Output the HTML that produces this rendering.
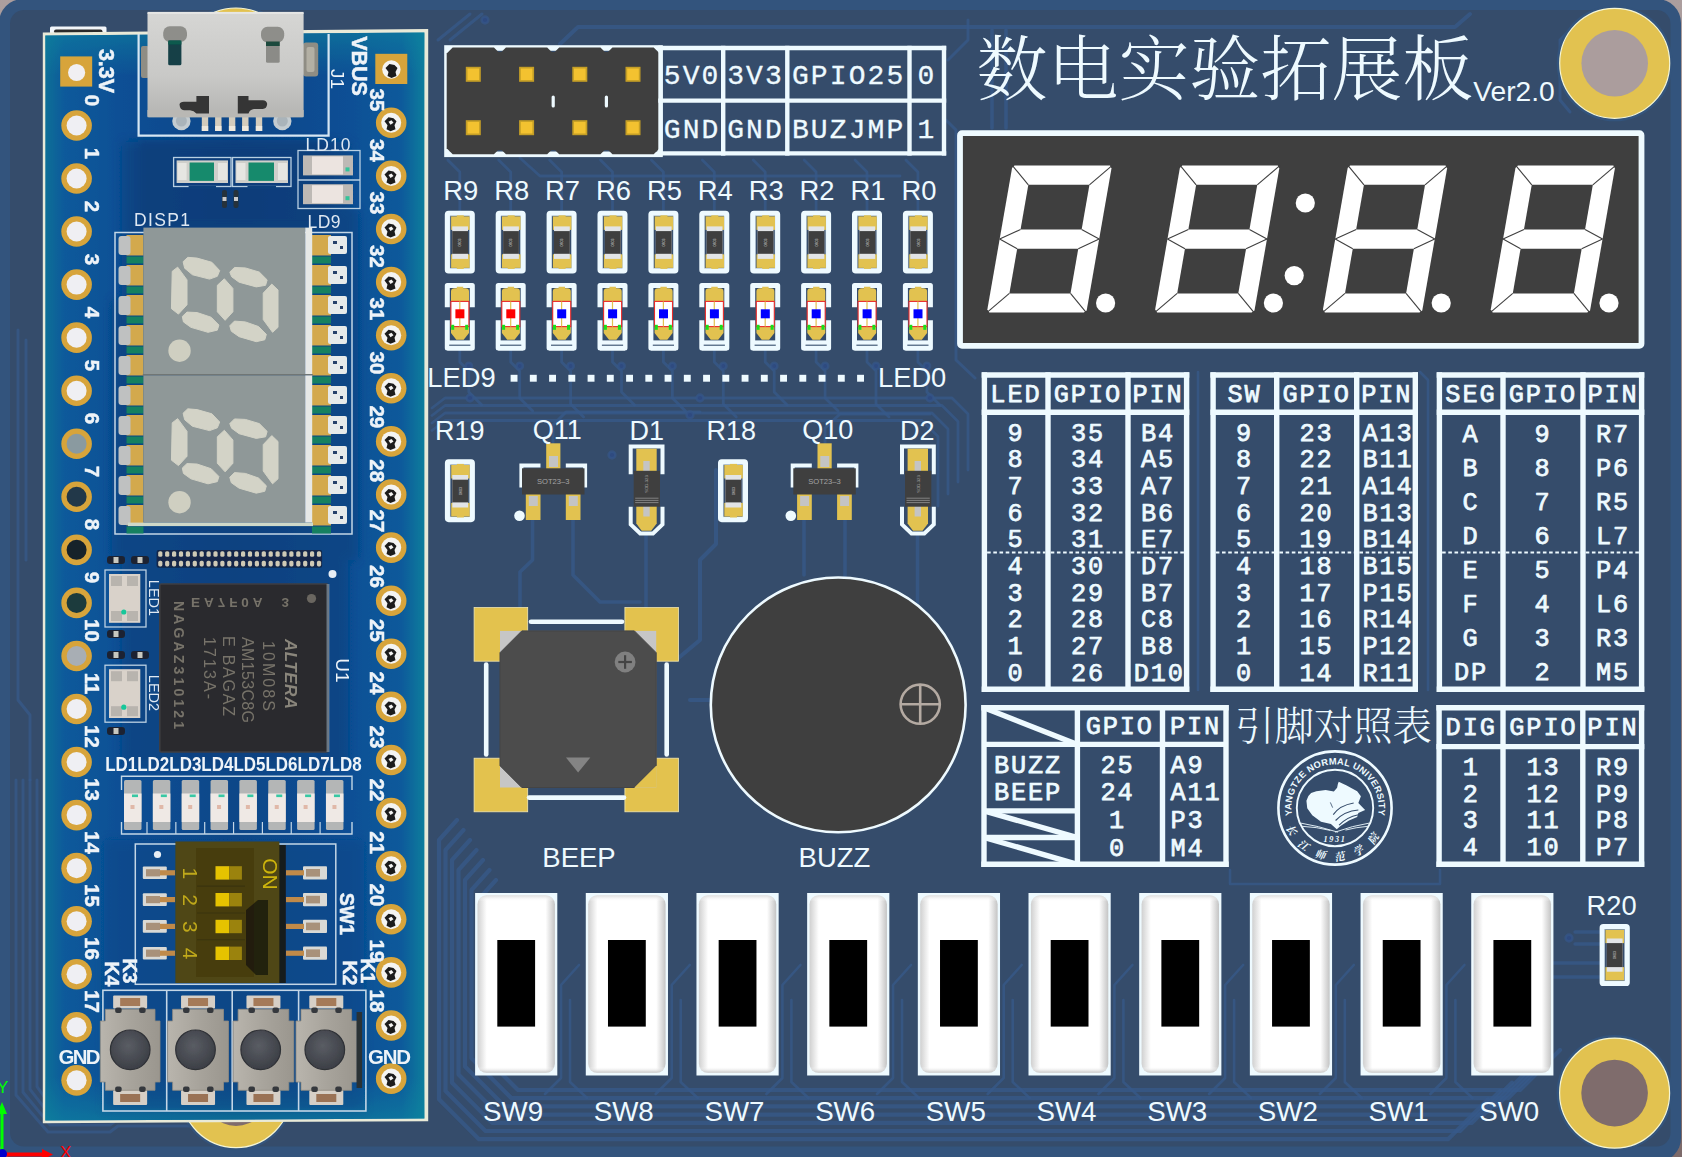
<!DOCTYPE html>
<html lang="zh"><head><meta charset="utf-8"><title>数电实验拓展板 Ver2.0</title>
<style>
html,body{margin:0;padding:0;background:#ac9e9e;overflow:hidden}
svg{display:block}
text{white-space:pre}
</style></head><body>
<svg width="1682" height="1157" viewBox="0 0 1682 1157">
<defs><linearGradient id="bg" x1="0" y1="0" x2="0" y2="1"><stop offset="0" stop-color="#ac9e9e"/><stop offset="1" stop-color="#7d6a6a"/></linearGradient></defs>
<rect x="0.00" y="0.00" width="1682.00" height="1157.00" fill="url(#bg)" />
<rect x="-1.00" y="-1.00" width="1682.00" height="1163.00" fill="#33547d" rx="24" />
<rect x="10.00" y="10.00" width="1660.50" height="1136.50" fill="#354c6b" rx="14" />
<g fill="none" stroke="#37598a" stroke-opacity="0.75" stroke-linejoin="round" stroke-linecap="round">
<path d="M1560.0,1050.0 L1520.0,1090.0 L518.0,1090.0 L478.0,1050.0 L478.0,900.0 L496.0,880.0" stroke-width="4.2"/>
<path d="M1548.0,1058.2 L1508.0,1098.2 L511.5,1098.2 L471.5,1058.2 L471.5,890.0 L489.5,870.0" stroke-width="4.2"/>
<path d="M1536.0,1066.4 L1496.0,1106.4 L505.0,1106.4 L465.0,1066.4 L465.0,880.0 L483.0,860.0" stroke-width="4.2"/>
<path d="M1524.0,1074.6 L1484.0,1114.6 L498.5,1114.6 L458.5,1074.6 L458.5,870.0 L476.5,850.0" stroke-width="4.2"/>
<path d="M1512.0,1082.8 L1472.0,1122.8 L492.0,1122.8 L452.0,1082.8 L452.0,860.0 L470.0,840.0" stroke-width="4.2"/>
<path d="M1500.0,1091.0 L1460.0,1131.0 L485.5,1131.0 L445.5,1091.0 L445.5,850.0 L463.5,830.0" stroke-width="4.2"/>
<path d="M1488.0,1099.2 L1448.0,1139.2 L479.0,1139.2 L439.0,1099.2 L439.0,840.0 L457.0,820.0" stroke-width="4.2"/>
<path d="M579.0,965.0 L561.0,985.0 L561.0,1078.0 L545.0,1094.0" stroke-width="2.6"/>
<path d="M570.0,1000.0 L570.0,1082.0 L587.0,1098.0" stroke-width="2.6"/>
<path d="M689.7,965.0 L671.7,985.0 L671.7,1078.0 L655.7,1094.0" stroke-width="2.6"/>
<path d="M680.7,1000.0 L680.7,1082.0 L697.7,1098.0" stroke-width="2.6"/>
<path d="M800.4,965.0 L782.4,985.0 L782.4,1078.0 L766.4,1094.0" stroke-width="2.6"/>
<path d="M791.4,1000.0 L791.4,1082.0 L808.4,1098.0" stroke-width="2.6"/>
<path d="M911.0,965.0 L893.0,985.0 L893.0,1078.0 L877.0,1094.0" stroke-width="2.6"/>
<path d="M902.0,1000.0 L902.0,1082.0 L919.0,1098.0" stroke-width="2.6"/>
<path d="M1021.7,965.0 L1003.7,985.0 L1003.7,1078.0 L987.7,1094.0" stroke-width="2.6"/>
<path d="M1012.7,1000.0 L1012.7,1082.0 L1029.7,1098.0" stroke-width="2.6"/>
<path d="M1132.4,965.0 L1114.4,985.0 L1114.4,1078.0 L1098.4,1094.0" stroke-width="2.6"/>
<path d="M1123.4,1000.0 L1123.4,1082.0 L1140.4,1098.0" stroke-width="2.6"/>
<path d="M1243.1,965.0 L1225.1,985.0 L1225.1,1078.0 L1209.1,1094.0" stroke-width="2.6"/>
<path d="M1234.1,1000.0 L1234.1,1082.0 L1251.1,1098.0" stroke-width="2.6"/>
<path d="M1353.8,965.0 L1335.8,985.0 L1335.8,1078.0 L1319.8,1094.0" stroke-width="2.6"/>
<path d="M1344.8,1000.0 L1344.8,1082.0 L1361.8,1098.0" stroke-width="2.6"/>
<path d="M1464.4,965.0 L1446.4,985.0 L1446.4,1078.0 L1430.4,1094.0" stroke-width="2.6"/>
<path d="M1455.4,1000.0 L1455.4,1082.0 L1472.4,1098.0" stroke-width="2.6"/>
<path d="M16.0,780.0 L16.0,1095.0 L48.0,1132.0 L110.0,1132.0 L118.0,1126.0 L200.0,1126.0" stroke-width="3.0"/>
<path d="M23.0,780.0 L23.0,1092.2 L50.1,1125.0 L110.0,1125.0 L118.0,1119.0 L200.0,1119.0" stroke-width="3.0"/>
<path d="M30.0,780.0 L30.0,1089.4 L52.2,1118.0 L110.0,1118.0 L118.0,1112.0 L200.0,1112.0" stroke-width="3.0"/>
<path d="M37.0,780.0 L37.0,1086.6 L54.3,1111.0 L110.0,1111.0 L118.0,1105.0 L200.0,1105.0" stroke-width="3.0"/>
<path d="M18.0,330.0 L18.0,700.0 L30.0,715.0 L30.0,780.0" stroke-width="3.0"/>
<path d="M26.0,340.0 L26.0,560.0" stroke-width="3.0"/>
<path d="M459.8,350.0 L459.8,362.0 L468.8,371.0 L468.8,392.0 L481.8,405.0" stroke-width="2.8"/>
<path d="M459.8,211.0 L459.8,172.0 L447.8,160.0" stroke-width="2.8"/>
<path d="M510.7,350.0 L510.7,362.0 L519.7,371.0 L519.7,398.0 L532.7,411.0" stroke-width="2.8"/>
<path d="M510.7,211.0 L510.7,172.0 L498.7,160.0" stroke-width="2.8"/>
<path d="M561.6,350.0 L561.6,362.0 L570.6,371.0 L570.6,404.0 L583.6,417.0" stroke-width="2.8"/>
<path d="M561.6,211.0 L561.6,172.0 L549.6,160.0" stroke-width="2.8"/>
<path d="M612.5,350.0 L612.5,362.0 L621.5,371.0 L621.5,392.0 L634.5,405.0" stroke-width="2.8"/>
<path d="M612.5,211.0 L612.5,172.0 L600.5,160.0" stroke-width="2.8"/>
<path d="M663.4,350.0 L663.4,362.0 L672.4,371.0 L672.4,398.0 L685.4,411.0" stroke-width="2.8"/>
<path d="M663.4,211.0 L663.4,172.0 L651.4,160.0" stroke-width="2.8"/>
<path d="M714.3,350.0 L714.3,362.0 L723.3,371.0 L723.3,404.0 L736.3,417.0" stroke-width="2.8"/>
<path d="M714.3,211.0 L714.3,172.0 L702.3,160.0" stroke-width="2.8"/>
<path d="M765.2,350.0 L765.2,362.0 L774.2,371.0 L774.2,392.0 L787.2,405.0" stroke-width="2.8"/>
<path d="M765.2,211.0 L765.2,172.0 L753.2,160.0" stroke-width="2.8"/>
<path d="M816.1,350.0 L816.1,362.0 L825.1,371.0 L825.1,398.0 L838.1,411.0" stroke-width="2.8"/>
<path d="M816.1,211.0 L816.1,172.0 L804.1,160.0" stroke-width="2.8"/>
<path d="M867.0,350.0 L867.0,362.0 L876.0,371.0 L876.0,404.0 L889.0,417.0" stroke-width="2.8"/>
<path d="M867.0,211.0 L867.0,172.0 L855.0,160.0" stroke-width="2.8"/>
<path d="M917.9,350.0 L917.9,362.0 L926.9,371.0 L926.9,392.0 L939.9,405.0" stroke-width="2.8"/>
<path d="M917.9,211.0 L917.9,172.0 L905.9,160.0" stroke-width="2.8"/>
<path d="M432.0,408.0 L445.0,398.0 L952.0,398.0 L968.0,414.0 L968.0,470.0" stroke-width="2.8"/>
<path d="M432.0,415.5 L445.0,405.5 L942.0,405.5 L958.0,421.5 L958.0,482.0" stroke-width="2.8"/>
<path d="M432.0,423.0 L445.0,413.0 L932.0,413.0 L948.0,429.0 L948.0,494.0" stroke-width="2.8"/>
<path d="M432.0,430.5 L445.0,420.5 L922.0,420.5 L938.0,436.5 L938.0,506.0" stroke-width="2.8"/>
<path d="M532.5,520.0 L532.5,560.0 L520.0,572.0 L520.0,607.0" stroke-width="3.6"/>
<path d="M573.0,520.0 L573.0,575.0 L600.0,602.0 L640.0,602.0" stroke-width="3.6"/>
<path d="M646.0,535.0 L646.0,607.0" stroke-width="3.6"/>
<path d="M804.0,520.0 L804.0,575.0" stroke-width="3.6"/>
<path d="M845.0,520.0 L845.0,578.0" stroke-width="3.6"/>
<path d="M917.5,535.0 L917.5,610.0" stroke-width="3.6"/>
<path d="M553.0,443.0 L553.0,425.0 L566.0,412.0 L700.0,412.0" stroke-width="3.0"/>
<path d="M825.0,443.0 L825.0,428.0 L840.0,414.0 L930.0,414.0" stroke-width="3.0"/>
<path d="M676.0,660.0 L700.0,640.0 L700.0,560.0 L716.0,544.0 L716.0,470.0" stroke-width="4.0"/>
<path d="M690.0,700.0 L712.0,700.0" stroke-width="4.0"/>
<path d="M560.0,44.0 L578.0,27.0 L1455.0,27.0 L1470.0,14.0" stroke-width="4.0"/>
<path d="M992.0,30.0 L992.0,128.0" stroke-width="3.6"/>
<path d="M1006.0,30.0 L1006.0,128.0" stroke-width="3.6"/>
<path d="M438.0,40.0 L470.0,14.0" stroke-width="3.0"/>
<path d="M450.0,40.0 L482.0,14.0" stroke-width="3.0"/>
<path d="M520.0,158.0 L540.0,176.0 L900.0,176.0" stroke-width="2.8"/>
<path d="M948.0,60.0 L968.0,40.0 L968.0,20.0" stroke-width="3.0"/>
<path d="M946.0,120.0 L956.0,130.0 L956.0,360.0 L975.0,378.0" stroke-width="3.0"/>
<path d="M1420.0,372.0 L1428.0,380.0 L1428.0,690.0" stroke-width="2.6"/>
<path d="M1198.0,372.0 L1198.0,690.0" stroke-width="2.6"/>
<path d="M1580.0,20.0 L1560.0,40.0 L1560.0,100.0 L1570.0,112.0" stroke-width="3.0"/>
<path d="M1575.0,932.0 L1600.0,932.0" stroke-width="3.4"/>
<path d="M1575.0,944.0 L1600.0,944.0" stroke-width="3.4"/>
<path d="M1553.0,963.0 L1600.0,963.0" stroke-width="3.4"/>
<path d="M1553.0,977.0 L1600.0,977.0" stroke-width="3.4"/>
<path d="M1230.0,870.0 L1230.0,884.0 L1440.0,884.0 L1440.0,870.0" stroke-width="2.6"/>
</g>
<g fill="#2f4b80" stroke="#37588a" stroke-opacity="0.6" stroke-width="2.6">
<circle cx="468.8" cy="366" r="3.2"/>
<circle cx="519.7" cy="366" r="3.2"/>
<circle cx="570.6" cy="366" r="3.2"/>
<circle cx="621.5" cy="366" r="3.2"/>
<circle cx="672.4" cy="366" r="3.2"/>
<circle cx="723.3" cy="366" r="3.2"/>
<circle cx="774.2" cy="366" r="3.2"/>
<circle cx="825.1" cy="366" r="3.2"/>
<circle cx="876.0" cy="366" r="3.2"/>
<circle cx="926.9" cy="366" r="3.2"/>
<circle cx="612" cy="455" r="3.4"/>
<circle cx="485" cy="20" r="3.4"/>
<circle cx="1569" cy="938" r="3.4"/>
<circle cx="690" cy="415" r="3.4"/>
<circle cx="930" cy="398" r="3.4"/>
<circle cx="700" cy="398" r="3.4"/>
<circle cx="470" cy="398" r="3.4"/>
</g>
<circle cx="1614.70" cy="63.30" r="58.00" fill="#33547d" />
<circle cx="1614.70" cy="63.30" r="55.00" fill="#e2c250" stroke="#f6f6d4" stroke-width="1.2" />
<circle cx="1614.70" cy="63.30" r="33.30" fill="#ab9d9d" />
<circle cx="1614.60" cy="1093.10" r="58.00" fill="#33547d" />
<circle cx="1614.60" cy="1093.10" r="55.00" fill="#e2c250" stroke="#f6f6d4" stroke-width="1.2" />
<circle cx="1614.60" cy="1093.10" r="33.30" fill="#7f6c6c" />
<circle cx="236.00" cy="63.00" r="58.00" fill="#33547d" />
<circle cx="236.00" cy="63.00" r="55.00" fill="#e2c250" stroke="#f6f6d4" stroke-width="1.2" />
<circle cx="236.00" cy="63.00" r="33.30" fill="#ab9d9d" />
<circle cx="236.00" cy="1092.60" r="58.00" fill="#33547d" />
<circle cx="236.00" cy="1092.60" r="55.00" fill="#e2c250" stroke="#f6f6d4" stroke-width="1.2" />
<circle cx="236.00" cy="1092.60" r="33.30" fill="#7f6c6c" />
<rect x="447.00" y="48.00" width="213.00" height="106.30" fill="none" stroke="#eefaff" stroke-width="5.6" />
<polygon points="452.70,47.50 493.95,47.50 499.95,53.50 499.95,148.20 493.95,154.20 452.70,154.20 446.70,148.20 446.70,53.50" fill="#3f3f3f" />
<polygon points="505.95,47.50 547.20,47.50 553.20,53.50 553.20,148.20 547.20,154.20 505.95,154.20 499.95,148.20 499.95,53.50" fill="#3f3f3f" />
<polygon points="559.20,47.50 600.45,47.50 606.45,53.50 606.45,148.20 600.45,154.20 559.20,154.20 553.20,148.20 553.20,53.50" fill="#3f3f3f" />
<polygon points="612.45,47.50 653.70,47.50 659.70,53.50 659.70,148.20 653.70,154.20 612.45,154.20 606.45,148.20 606.45,53.50" fill="#3f3f3f" />
<rect x="450.00" y="52.00" width="206.00" height="98.00" fill="#3f3f3f" />
<rect x="551.60" y="95.50" width="3.20" height="12.00" fill="#eefaff" rx="1.6" />
<rect x="604.80" y="95.50" width="3.20" height="12.00" fill="#eefaff" rx="1.6" />
<rect x="465.80" y="66.80" width="15.00" height="15.00" fill="#c59f26" />
<rect x="467.50" y="68.50" width="11.60" height="11.60" fill="#f3c230" />
<rect x="465.80" y="120.20" width="15.00" height="15.00" fill="#c59f26" />
<rect x="467.50" y="121.90" width="11.60" height="11.60" fill="#f3c230" />
<rect x="519.10" y="66.80" width="15.00" height="15.00" fill="#c59f26" />
<rect x="520.80" y="68.50" width="11.60" height="11.60" fill="#f3c230" />
<rect x="519.10" y="120.20" width="15.00" height="15.00" fill="#c59f26" />
<rect x="520.80" y="121.90" width="11.60" height="11.60" fill="#f3c230" />
<rect x="572.30" y="66.80" width="15.00" height="15.00" fill="#c59f26" />
<rect x="574.00" y="68.50" width="11.60" height="11.60" fill="#f3c230" />
<rect x="572.30" y="120.20" width="15.00" height="15.00" fill="#c59f26" />
<rect x="574.00" y="121.90" width="11.60" height="11.60" fill="#f3c230" />
<rect x="625.50" y="66.80" width="15.00" height="15.00" fill="#c59f26" />
<rect x="627.20" y="68.50" width="11.60" height="11.60" fill="#f3c230" />
<rect x="625.50" y="120.20" width="15.00" height="15.00" fill="#c59f26" />
<rect x="627.20" y="121.90" width="11.60" height="11.60" fill="#f3c230" />
<line x1="660.50" y1="45.80" x2="660.50" y2="155.60" stroke="#eefaff" stroke-width="4.4" />
<line x1="723.20" y1="45.80" x2="723.20" y2="155.60" stroke="#eefaff" stroke-width="4.4" />
<line x1="787.30" y1="45.80" x2="787.30" y2="155.60" stroke="#eefaff" stroke-width="4.4" />
<line x1="909.50" y1="45.80" x2="909.50" y2="155.60" stroke="#eefaff" stroke-width="4.4" />
<line x1="944.00" y1="45.80" x2="944.00" y2="155.60" stroke="#eefaff" stroke-width="4.4" />
<line x1="658.30" y1="48.00" x2="946.20" y2="48.00" stroke="#eefaff" stroke-width="4.4" />
<line x1="658.30" y1="100.60" x2="946.20" y2="100.60" stroke="#eefaff" stroke-width="4.4" />
<line x1="658.30" y1="153.40" x2="946.20" y2="153.40" stroke="#eefaff" stroke-width="4.4" />
<text x="692.10" y="84.30" font-family="'Liberation Mono', monospace" font-size="28" fill="#eefaff" text-anchor="middle" font-weight="normal" letter-spacing="2.1" stroke="#eefaff" stroke-width="0.3" stroke-linejoin="round" >5V0</text>
<text x="692.10" y="138.30" font-family="'Liberation Mono', monospace" font-size="28" fill="#eefaff" text-anchor="middle" font-weight="normal" letter-spacing="2.1" stroke="#eefaff" stroke-width="0.3" stroke-linejoin="round" >GND</text>
<text x="755.50" y="84.30" font-family="'Liberation Mono', monospace" font-size="28" fill="#eefaff" text-anchor="middle" font-weight="normal" letter-spacing="2.1" stroke="#eefaff" stroke-width="0.3" stroke-linejoin="round" >3V3</text>
<text x="755.50" y="138.30" font-family="'Liberation Mono', monospace" font-size="28" fill="#eefaff" text-anchor="middle" font-weight="normal" letter-spacing="2.1" stroke="#eefaff" stroke-width="0.3" stroke-linejoin="round" >GND</text>
<text x="848.65" y="84.30" font-family="'Liberation Mono', monospace" font-size="28" fill="#eefaff" text-anchor="middle" font-weight="normal" letter-spacing="2.1" stroke="#eefaff" stroke-width="0.3" stroke-linejoin="round" >GPIO25</text>
<text x="848.65" y="138.30" font-family="'Liberation Mono', monospace" font-size="28" fill="#eefaff" text-anchor="middle" font-weight="normal" letter-spacing="2.1" stroke="#eefaff" stroke-width="0.3" stroke-linejoin="round" >BUZJMP</text>
<text x="927.00" y="84.30" font-family="'Liberation Mono', monospace" font-size="28" fill="#eefaff" text-anchor="middle" font-weight="normal" letter-spacing="2.1" stroke="#eefaff" stroke-width="0.3" stroke-linejoin="round" >0</text>
<text x="927.00" y="138.30" font-family="'Liberation Mono', monospace" font-size="28" fill="#eefaff" text-anchor="middle" font-weight="normal" letter-spacing="2.1" stroke="#eefaff" stroke-width="0.3" stroke-linejoin="round" >1</text>
<rect x="447.40" y="213.25" width="24.80" height="57.70" fill="none" stroke="#eefaff" stroke-width="5.2" rx="1.2" />
<rect x="450.00" y="215.90" width="19.60" height="52.40" fill="none" stroke="#cfe0ea" stroke-width="0.5" />
<rect x="451.10" y="216.40" width="18.50" height="13.50" fill="#e2c250" />
<rect x="451.10" y="254.30" width="18.50" height="13.60" fill="#e2c250" />
<rect x="456.80" y="215.30" width="7.00" height="2.00" fill="#e2c250" />
<rect x="456.80" y="266.90" width="7.00" height="2.00" fill="#e2c250" />
<rect x="452.20" y="226.40" width="15.80" height="32.50" fill="#e2e4e6" />
<rect x="452.20" y="231.10" width="15.80" height="22.70" fill="#3f3f3f" />
<text x="461.50" y="242.40" font-family="'Liberation Sans', sans-serif" font-size="3.6" fill="#d8d8d8" text-anchor="middle" font-weight="normal" transform="rotate(-90 461.50 242.40)">0603</text>
<text x="460.80" y="199.80" font-family="'Liberation Sans', sans-serif" font-size="27.4" fill="#eefaff" text-anchor="middle" font-weight="normal" >R9</text>
<rect x="498.30" y="213.25" width="24.80" height="57.70" fill="none" stroke="#eefaff" stroke-width="5.2" rx="1.2" />
<rect x="500.90" y="215.90" width="19.60" height="52.40" fill="none" stroke="#cfe0ea" stroke-width="0.5" />
<rect x="502.00" y="216.40" width="18.50" height="13.50" fill="#e2c250" />
<rect x="502.00" y="254.30" width="18.50" height="13.60" fill="#e2c250" />
<rect x="507.70" y="215.30" width="7.00" height="2.00" fill="#e2c250" />
<rect x="507.70" y="266.90" width="7.00" height="2.00" fill="#e2c250" />
<rect x="503.10" y="226.40" width="15.80" height="32.50" fill="#e2e4e6" />
<rect x="503.10" y="231.10" width="15.80" height="22.70" fill="#3f3f3f" />
<text x="512.40" y="242.40" font-family="'Liberation Sans', sans-serif" font-size="3.6" fill="#d8d8d8" text-anchor="middle" font-weight="normal" transform="rotate(-90 512.40 242.40)">0603</text>
<text x="511.70" y="199.80" font-family="'Liberation Sans', sans-serif" font-size="27.4" fill="#eefaff" text-anchor="middle" font-weight="normal" >R8</text>
<rect x="549.20" y="213.25" width="24.80" height="57.70" fill="none" stroke="#eefaff" stroke-width="5.2" rx="1.2" />
<rect x="551.80" y="215.90" width="19.60" height="52.40" fill="none" stroke="#cfe0ea" stroke-width="0.5" />
<rect x="552.90" y="216.40" width="18.50" height="13.50" fill="#e2c250" />
<rect x="552.90" y="254.30" width="18.50" height="13.60" fill="#e2c250" />
<rect x="558.60" y="215.30" width="7.00" height="2.00" fill="#e2c250" />
<rect x="558.60" y="266.90" width="7.00" height="2.00" fill="#e2c250" />
<rect x="554.00" y="226.40" width="15.80" height="32.50" fill="#e2e4e6" />
<rect x="554.00" y="231.10" width="15.80" height="22.70" fill="#3f3f3f" />
<text x="563.30" y="242.40" font-family="'Liberation Sans', sans-serif" font-size="3.6" fill="#d8d8d8" text-anchor="middle" font-weight="normal" transform="rotate(-90 563.30 242.40)">0603</text>
<text x="562.60" y="199.80" font-family="'Liberation Sans', sans-serif" font-size="27.4" fill="#eefaff" text-anchor="middle" font-weight="normal" >R7</text>
<rect x="600.10" y="213.25" width="24.80" height="57.70" fill="none" stroke="#eefaff" stroke-width="5.2" rx="1.2" />
<rect x="602.70" y="215.90" width="19.60" height="52.40" fill="none" stroke="#cfe0ea" stroke-width="0.5" />
<rect x="603.80" y="216.40" width="18.50" height="13.50" fill="#e2c250" />
<rect x="603.80" y="254.30" width="18.50" height="13.60" fill="#e2c250" />
<rect x="609.50" y="215.30" width="7.00" height="2.00" fill="#e2c250" />
<rect x="609.50" y="266.90" width="7.00" height="2.00" fill="#e2c250" />
<rect x="604.90" y="226.40" width="15.80" height="32.50" fill="#e2e4e6" />
<rect x="604.90" y="231.10" width="15.80" height="22.70" fill="#3f3f3f" />
<text x="614.20" y="242.40" font-family="'Liberation Sans', sans-serif" font-size="3.6" fill="#d8d8d8" text-anchor="middle" font-weight="normal" transform="rotate(-90 614.20 242.40)">0603</text>
<text x="613.50" y="199.80" font-family="'Liberation Sans', sans-serif" font-size="27.4" fill="#eefaff" text-anchor="middle" font-weight="normal" >R6</text>
<rect x="651.00" y="213.25" width="24.80" height="57.70" fill="none" stroke="#eefaff" stroke-width="5.2" rx="1.2" />
<rect x="653.60" y="215.90" width="19.60" height="52.40" fill="none" stroke="#cfe0ea" stroke-width="0.5" />
<rect x="654.70" y="216.40" width="18.50" height="13.50" fill="#e2c250" />
<rect x="654.70" y="254.30" width="18.50" height="13.60" fill="#e2c250" />
<rect x="660.40" y="215.30" width="7.00" height="2.00" fill="#e2c250" />
<rect x="660.40" y="266.90" width="7.00" height="2.00" fill="#e2c250" />
<rect x="655.80" y="226.40" width="15.80" height="32.50" fill="#e2e4e6" />
<rect x="655.80" y="231.10" width="15.80" height="22.70" fill="#3f3f3f" />
<text x="665.10" y="242.40" font-family="'Liberation Sans', sans-serif" font-size="3.6" fill="#d8d8d8" text-anchor="middle" font-weight="normal" transform="rotate(-90 665.10 242.40)">0603</text>
<text x="664.40" y="199.80" font-family="'Liberation Sans', sans-serif" font-size="27.4" fill="#eefaff" text-anchor="middle" font-weight="normal" >R5</text>
<rect x="701.90" y="213.25" width="24.80" height="57.70" fill="none" stroke="#eefaff" stroke-width="5.2" rx="1.2" />
<rect x="704.50" y="215.90" width="19.60" height="52.40" fill="none" stroke="#cfe0ea" stroke-width="0.5" />
<rect x="705.60" y="216.40" width="18.50" height="13.50" fill="#e2c250" />
<rect x="705.60" y="254.30" width="18.50" height="13.60" fill="#e2c250" />
<rect x="711.30" y="215.30" width="7.00" height="2.00" fill="#e2c250" />
<rect x="711.30" y="266.90" width="7.00" height="2.00" fill="#e2c250" />
<rect x="706.70" y="226.40" width="15.80" height="32.50" fill="#e2e4e6" />
<rect x="706.70" y="231.10" width="15.80" height="22.70" fill="#3f3f3f" />
<text x="716.00" y="242.40" font-family="'Liberation Sans', sans-serif" font-size="3.6" fill="#d8d8d8" text-anchor="middle" font-weight="normal" transform="rotate(-90 716.00 242.40)">0603</text>
<text x="715.30" y="199.80" font-family="'Liberation Sans', sans-serif" font-size="27.4" fill="#eefaff" text-anchor="middle" font-weight="normal" >R4</text>
<rect x="752.80" y="213.25" width="24.80" height="57.70" fill="none" stroke="#eefaff" stroke-width="5.2" rx="1.2" />
<rect x="755.40" y="215.90" width="19.60" height="52.40" fill="none" stroke="#cfe0ea" stroke-width="0.5" />
<rect x="756.50" y="216.40" width="18.50" height="13.50" fill="#e2c250" />
<rect x="756.50" y="254.30" width="18.50" height="13.60" fill="#e2c250" />
<rect x="762.20" y="215.30" width="7.00" height="2.00" fill="#e2c250" />
<rect x="762.20" y="266.90" width="7.00" height="2.00" fill="#e2c250" />
<rect x="757.60" y="226.40" width="15.80" height="32.50" fill="#e2e4e6" />
<rect x="757.60" y="231.10" width="15.80" height="22.70" fill="#3f3f3f" />
<text x="766.90" y="242.40" font-family="'Liberation Sans', sans-serif" font-size="3.6" fill="#d8d8d8" text-anchor="middle" font-weight="normal" transform="rotate(-90 766.90 242.40)">0603</text>
<text x="766.20" y="199.80" font-family="'Liberation Sans', sans-serif" font-size="27.4" fill="#eefaff" text-anchor="middle" font-weight="normal" >R3</text>
<rect x="803.70" y="213.25" width="24.80" height="57.70" fill="none" stroke="#eefaff" stroke-width="5.2" rx="1.2" />
<rect x="806.30" y="215.90" width="19.60" height="52.40" fill="none" stroke="#cfe0ea" stroke-width="0.5" />
<rect x="807.40" y="216.40" width="18.50" height="13.50" fill="#e2c250" />
<rect x="807.40" y="254.30" width="18.50" height="13.60" fill="#e2c250" />
<rect x="813.10" y="215.30" width="7.00" height="2.00" fill="#e2c250" />
<rect x="813.10" y="266.90" width="7.00" height="2.00" fill="#e2c250" />
<rect x="808.50" y="226.40" width="15.80" height="32.50" fill="#e2e4e6" />
<rect x="808.50" y="231.10" width="15.80" height="22.70" fill="#3f3f3f" />
<text x="817.80" y="242.40" font-family="'Liberation Sans', sans-serif" font-size="3.6" fill="#d8d8d8" text-anchor="middle" font-weight="normal" transform="rotate(-90 817.80 242.40)">0603</text>
<text x="817.10" y="199.80" font-family="'Liberation Sans', sans-serif" font-size="27.4" fill="#eefaff" text-anchor="middle" font-weight="normal" >R2</text>
<rect x="854.60" y="213.25" width="24.80" height="57.70" fill="none" stroke="#eefaff" stroke-width="5.2" rx="1.2" />
<rect x="857.20" y="215.90" width="19.60" height="52.40" fill="none" stroke="#cfe0ea" stroke-width="0.5" />
<rect x="858.30" y="216.40" width="18.50" height="13.50" fill="#e2c250" />
<rect x="858.30" y="254.30" width="18.50" height="13.60" fill="#e2c250" />
<rect x="864.00" y="215.30" width="7.00" height="2.00" fill="#e2c250" />
<rect x="864.00" y="266.90" width="7.00" height="2.00" fill="#e2c250" />
<rect x="859.40" y="226.40" width="15.80" height="32.50" fill="#e2e4e6" />
<rect x="859.40" y="231.10" width="15.80" height="22.70" fill="#3f3f3f" />
<text x="868.70" y="242.40" font-family="'Liberation Sans', sans-serif" font-size="3.6" fill="#d8d8d8" text-anchor="middle" font-weight="normal" transform="rotate(-90 868.70 242.40)">0603</text>
<text x="868.00" y="199.80" font-family="'Liberation Sans', sans-serif" font-size="27.4" fill="#eefaff" text-anchor="middle" font-weight="normal" >R1</text>
<rect x="905.50" y="213.25" width="24.80" height="57.70" fill="none" stroke="#eefaff" stroke-width="5.2" rx="1.2" />
<rect x="908.10" y="215.90" width="19.60" height="52.40" fill="none" stroke="#cfe0ea" stroke-width="0.5" />
<rect x="909.20" y="216.40" width="18.50" height="13.50" fill="#e2c250" />
<rect x="909.20" y="254.30" width="18.50" height="13.60" fill="#e2c250" />
<rect x="914.90" y="215.30" width="7.00" height="2.00" fill="#e2c250" />
<rect x="914.90" y="266.90" width="7.00" height="2.00" fill="#e2c250" />
<rect x="910.30" y="226.40" width="15.80" height="32.50" fill="#e2e4e6" />
<rect x="910.30" y="231.10" width="15.80" height="22.70" fill="#3f3f3f" />
<text x="919.60" y="242.40" font-family="'Liberation Sans', sans-serif" font-size="3.6" fill="#d8d8d8" text-anchor="middle" font-weight="normal" transform="rotate(-90 919.60 242.40)">0603</text>
<text x="918.90" y="199.80" font-family="'Liberation Sans', sans-serif" font-size="27.4" fill="#eefaff" text-anchor="middle" font-weight="normal" >R0</text>
<path d="M447.30,307.2 V285.5 H472.30 V307.2" fill="none" stroke="#eefaff" stroke-width="5.0" stroke-linejoin="round"/>
<path d="M447.30,320.3 V348.0 H472.30 V320.3" fill="none" stroke="#eefaff" stroke-width="5.0" stroke-linejoin="round"/>
<rect x="447.30" y="340.40" width="25.00" height="10.10" fill="#eefaff" />
<line x1="449.20" y1="345.20" x2="470.40" y2="345.20" stroke="#354c6b" stroke-width="1.1" />
<path d="M451.00,309 V291.5 Q451.00,288.2 454.80,288.2 H456.80 V286.8 H463.20 V288.2 H465.20 Q469.00,288.2 469.00,291.5 V309 Z" fill="#e2c250" />
<path d="M451.00,320 V333 L456.30,339.7 H463.70 L469.00,333 V320 Z" fill="#e2c250" />
<rect x="450.90" y="301.40" width="18.00" height="25.20" fill="#ffffff" stroke="#e82a2a" stroke-width="1.1" />
<line x1="459.80" y1="301.40" x2="459.80" y2="326.60" stroke="#e2c250" stroke-width="1.2" />
<rect x="455.40" y="309.30" width="9.00" height="9.00" fill="#ff0000" />
<rect x="451.20" y="324.80" width="3.00" height="5.00" fill="#19e019" />
<rect x="465.20" y="324.80" width="3.00" height="5.00" fill="#19e019" />
<path d="M498.20,307.2 V285.5 H523.20 V307.2" fill="none" stroke="#eefaff" stroke-width="5.0" stroke-linejoin="round"/>
<path d="M498.20,320.3 V348.0 H523.20 V320.3" fill="none" stroke="#eefaff" stroke-width="5.0" stroke-linejoin="round"/>
<rect x="498.20" y="340.40" width="25.00" height="10.10" fill="#eefaff" />
<line x1="500.10" y1="345.20" x2="521.30" y2="345.20" stroke="#354c6b" stroke-width="1.1" />
<path d="M501.90,309 V291.5 Q501.90,288.2 505.70,288.2 H507.70 V286.8 H514.10 V288.2 H516.10 Q519.90,288.2 519.90,291.5 V309 Z" fill="#e2c250" />
<path d="M501.90,320 V333 L507.20,339.7 H514.60 L519.90,333 V320 Z" fill="#e2c250" />
<rect x="501.80" y="301.40" width="18.00" height="25.20" fill="#ffffff" stroke="#e82a2a" stroke-width="1.1" />
<line x1="510.70" y1="301.40" x2="510.70" y2="326.60" stroke="#e2c250" stroke-width="1.2" />
<rect x="506.30" y="309.30" width="9.00" height="9.00" fill="#ff0000" />
<rect x="502.10" y="324.80" width="3.00" height="5.00" fill="#19e019" />
<rect x="516.10" y="324.80" width="3.00" height="5.00" fill="#19e019" />
<path d="M549.10,307.2 V285.5 H574.10 V307.2" fill="none" stroke="#eefaff" stroke-width="5.0" stroke-linejoin="round"/>
<path d="M549.10,320.3 V348.0 H574.10 V320.3" fill="none" stroke="#eefaff" stroke-width="5.0" stroke-linejoin="round"/>
<rect x="549.10" y="340.40" width="25.00" height="10.10" fill="#eefaff" />
<line x1="551.00" y1="345.20" x2="572.20" y2="345.20" stroke="#354c6b" stroke-width="1.1" />
<path d="M552.80,309 V291.5 Q552.80,288.2 556.60,288.2 H558.60 V286.8 H565.00 V288.2 H567.00 Q570.80,288.2 570.80,291.5 V309 Z" fill="#e2c250" />
<path d="M552.80,320 V333 L558.10,339.7 H565.50 L570.80,333 V320 Z" fill="#e2c250" />
<rect x="552.70" y="301.40" width="18.00" height="25.20" fill="#ffffff" stroke="#e82a2a" stroke-width="1.1" />
<line x1="561.60" y1="301.40" x2="561.60" y2="326.60" stroke="#e2c250" stroke-width="1.2" />
<rect x="557.20" y="309.30" width="9.00" height="9.00" fill="#0000ff" />
<rect x="553.00" y="324.80" width="3.00" height="5.00" fill="#19e019" />
<rect x="567.00" y="324.80" width="3.00" height="5.00" fill="#19e019" />
<path d="M600.00,307.2 V285.5 H625.00 V307.2" fill="none" stroke="#eefaff" stroke-width="5.0" stroke-linejoin="round"/>
<path d="M600.00,320.3 V348.0 H625.00 V320.3" fill="none" stroke="#eefaff" stroke-width="5.0" stroke-linejoin="round"/>
<rect x="600.00" y="340.40" width="25.00" height="10.10" fill="#eefaff" />
<line x1="601.90" y1="345.20" x2="623.10" y2="345.20" stroke="#354c6b" stroke-width="1.1" />
<path d="M603.70,309 V291.5 Q603.70,288.2 607.50,288.2 H609.50 V286.8 H615.90 V288.2 H617.90 Q621.70,288.2 621.70,291.5 V309 Z" fill="#e2c250" />
<path d="M603.70,320 V333 L609.00,339.7 H616.40 L621.70,333 V320 Z" fill="#e2c250" />
<rect x="603.60" y="301.40" width="18.00" height="25.20" fill="#ffffff" stroke="#e82a2a" stroke-width="1.1" />
<line x1="612.50" y1="301.40" x2="612.50" y2="326.60" stroke="#e2c250" stroke-width="1.2" />
<rect x="608.10" y="309.30" width="9.00" height="9.00" fill="#0000ff" />
<rect x="603.90" y="324.80" width="3.00" height="5.00" fill="#19e019" />
<rect x="617.90" y="324.80" width="3.00" height="5.00" fill="#19e019" />
<path d="M650.90,307.2 V285.5 H675.90 V307.2" fill="none" stroke="#eefaff" stroke-width="5.0" stroke-linejoin="round"/>
<path d="M650.90,320.3 V348.0 H675.90 V320.3" fill="none" stroke="#eefaff" stroke-width="5.0" stroke-linejoin="round"/>
<rect x="650.90" y="340.40" width="25.00" height="10.10" fill="#eefaff" />
<line x1="652.80" y1="345.20" x2="674.00" y2="345.20" stroke="#354c6b" stroke-width="1.1" />
<path d="M654.60,309 V291.5 Q654.60,288.2 658.40,288.2 H660.40 V286.8 H666.80 V288.2 H668.80 Q672.60,288.2 672.60,291.5 V309 Z" fill="#e2c250" />
<path d="M654.60,320 V333 L659.90,339.7 H667.30 L672.60,333 V320 Z" fill="#e2c250" />
<rect x="654.50" y="301.40" width="18.00" height="25.20" fill="#ffffff" stroke="#e82a2a" stroke-width="1.1" />
<line x1="663.40" y1="301.40" x2="663.40" y2="326.60" stroke="#e2c250" stroke-width="1.2" />
<rect x="659.00" y="309.30" width="9.00" height="9.00" fill="#0000ff" />
<rect x="654.80" y="324.80" width="3.00" height="5.00" fill="#19e019" />
<rect x="668.80" y="324.80" width="3.00" height="5.00" fill="#19e019" />
<path d="M701.80,307.2 V285.5 H726.80 V307.2" fill="none" stroke="#eefaff" stroke-width="5.0" stroke-linejoin="round"/>
<path d="M701.80,320.3 V348.0 H726.80 V320.3" fill="none" stroke="#eefaff" stroke-width="5.0" stroke-linejoin="round"/>
<rect x="701.80" y="340.40" width="25.00" height="10.10" fill="#eefaff" />
<line x1="703.70" y1="345.20" x2="724.90" y2="345.20" stroke="#354c6b" stroke-width="1.1" />
<path d="M705.50,309 V291.5 Q705.50,288.2 709.30,288.2 H711.30 V286.8 H717.70 V288.2 H719.70 Q723.50,288.2 723.50,291.5 V309 Z" fill="#e2c250" />
<path d="M705.50,320 V333 L710.80,339.7 H718.20 L723.50,333 V320 Z" fill="#e2c250" />
<rect x="705.40" y="301.40" width="18.00" height="25.20" fill="#ffffff" stroke="#e82a2a" stroke-width="1.1" />
<line x1="714.30" y1="301.40" x2="714.30" y2="326.60" stroke="#e2c250" stroke-width="1.2" />
<rect x="709.90" y="309.30" width="9.00" height="9.00" fill="#0000ff" />
<rect x="705.70" y="324.80" width="3.00" height="5.00" fill="#19e019" />
<rect x="719.70" y="324.80" width="3.00" height="5.00" fill="#19e019" />
<path d="M752.70,307.2 V285.5 H777.70 V307.2" fill="none" stroke="#eefaff" stroke-width="5.0" stroke-linejoin="round"/>
<path d="M752.70,320.3 V348.0 H777.70 V320.3" fill="none" stroke="#eefaff" stroke-width="5.0" stroke-linejoin="round"/>
<rect x="752.70" y="340.40" width="25.00" height="10.10" fill="#eefaff" />
<line x1="754.60" y1="345.20" x2="775.80" y2="345.20" stroke="#354c6b" stroke-width="1.1" />
<path d="M756.40,309 V291.5 Q756.40,288.2 760.20,288.2 H762.20 V286.8 H768.60 V288.2 H770.60 Q774.40,288.2 774.40,291.5 V309 Z" fill="#e2c250" />
<path d="M756.40,320 V333 L761.70,339.7 H769.10 L774.40,333 V320 Z" fill="#e2c250" />
<rect x="756.30" y="301.40" width="18.00" height="25.20" fill="#ffffff" stroke="#e82a2a" stroke-width="1.1" />
<line x1="765.20" y1="301.40" x2="765.20" y2="326.60" stroke="#e2c250" stroke-width="1.2" />
<rect x="760.80" y="309.30" width="9.00" height="9.00" fill="#0000ff" />
<rect x="756.60" y="324.80" width="3.00" height="5.00" fill="#19e019" />
<rect x="770.60" y="324.80" width="3.00" height="5.00" fill="#19e019" />
<path d="M803.60,307.2 V285.5 H828.60 V307.2" fill="none" stroke="#eefaff" stroke-width="5.0" stroke-linejoin="round"/>
<path d="M803.60,320.3 V348.0 H828.60 V320.3" fill="none" stroke="#eefaff" stroke-width="5.0" stroke-linejoin="round"/>
<rect x="803.60" y="340.40" width="25.00" height="10.10" fill="#eefaff" />
<line x1="805.50" y1="345.20" x2="826.70" y2="345.20" stroke="#354c6b" stroke-width="1.1" />
<path d="M807.30,309 V291.5 Q807.30,288.2 811.10,288.2 H813.10 V286.8 H819.50 V288.2 H821.50 Q825.30,288.2 825.30,291.5 V309 Z" fill="#e2c250" />
<path d="M807.30,320 V333 L812.60,339.7 H820.00 L825.30,333 V320 Z" fill="#e2c250" />
<rect x="807.20" y="301.40" width="18.00" height="25.20" fill="#ffffff" stroke="#e82a2a" stroke-width="1.1" />
<line x1="816.10" y1="301.40" x2="816.10" y2="326.60" stroke="#e2c250" stroke-width="1.2" />
<rect x="811.70" y="309.30" width="9.00" height="9.00" fill="#0000ff" />
<rect x="807.50" y="324.80" width="3.00" height="5.00" fill="#19e019" />
<rect x="821.50" y="324.80" width="3.00" height="5.00" fill="#19e019" />
<path d="M854.50,307.2 V285.5 H879.50 V307.2" fill="none" stroke="#eefaff" stroke-width="5.0" stroke-linejoin="round"/>
<path d="M854.50,320.3 V348.0 H879.50 V320.3" fill="none" stroke="#eefaff" stroke-width="5.0" stroke-linejoin="round"/>
<rect x="854.50" y="340.40" width="25.00" height="10.10" fill="#eefaff" />
<line x1="856.40" y1="345.20" x2="877.60" y2="345.20" stroke="#354c6b" stroke-width="1.1" />
<path d="M858.20,309 V291.5 Q858.20,288.2 862.00,288.2 H864.00 V286.8 H870.40 V288.2 H872.40 Q876.20,288.2 876.20,291.5 V309 Z" fill="#e2c250" />
<path d="M858.20,320 V333 L863.50,339.7 H870.90 L876.20,333 V320 Z" fill="#e2c250" />
<rect x="858.10" y="301.40" width="18.00" height="25.20" fill="#ffffff" stroke="#e82a2a" stroke-width="1.1" />
<line x1="867.00" y1="301.40" x2="867.00" y2="326.60" stroke="#e2c250" stroke-width="1.2" />
<rect x="862.60" y="309.30" width="9.00" height="9.00" fill="#0000ff" />
<rect x="858.40" y="324.80" width="3.00" height="5.00" fill="#19e019" />
<rect x="872.40" y="324.80" width="3.00" height="5.00" fill="#19e019" />
<path d="M905.40,307.2 V285.5 H930.40 V307.2" fill="none" stroke="#eefaff" stroke-width="5.0" stroke-linejoin="round"/>
<path d="M905.40,320.3 V348.0 H930.40 V320.3" fill="none" stroke="#eefaff" stroke-width="5.0" stroke-linejoin="round"/>
<rect x="905.40" y="340.40" width="25.00" height="10.10" fill="#eefaff" />
<line x1="907.30" y1="345.20" x2="928.50" y2="345.20" stroke="#354c6b" stroke-width="1.1" />
<path d="M909.10,309 V291.5 Q909.10,288.2 912.90,288.2 H914.90 V286.8 H921.30 V288.2 H923.30 Q927.10,288.2 927.10,291.5 V309 Z" fill="#e2c250" />
<path d="M909.10,320 V333 L914.40,339.7 H921.80 L927.10,333 V320 Z" fill="#e2c250" />
<rect x="909.00" y="301.40" width="18.00" height="25.20" fill="#ffffff" stroke="#e82a2a" stroke-width="1.1" />
<line x1="917.90" y1="301.40" x2="917.90" y2="326.60" stroke="#e2c250" stroke-width="1.2" />
<rect x="913.50" y="309.30" width="9.00" height="9.00" fill="#0000ff" />
<rect x="909.30" y="324.80" width="3.00" height="5.00" fill="#19e019" />
<rect x="923.30" y="324.80" width="3.00" height="5.00" fill="#19e019" />
<text x="427.30" y="386.80" font-family="'Liberation Sans', sans-serif" font-size="27.3" fill="#eefaff" text-anchor="start" font-weight="normal" >LED9</text>
<text x="878.00" y="386.80" font-family="'Liberation Sans', sans-serif" font-size="27.3" fill="#eefaff" text-anchor="start" font-weight="normal" >LED0</text>
<rect x="510.60" y="374.80" width="6.90" height="6.90" fill="#eefaff" />
<rect x="529.85" y="374.80" width="6.90" height="6.90" fill="#eefaff" />
<rect x="549.10" y="374.80" width="6.90" height="6.90" fill="#eefaff" />
<rect x="568.35" y="374.80" width="6.90" height="6.90" fill="#eefaff" />
<rect x="587.60" y="374.80" width="6.90" height="6.90" fill="#eefaff" />
<rect x="606.85" y="374.80" width="6.90" height="6.90" fill="#eefaff" />
<rect x="626.10" y="374.80" width="6.90" height="6.90" fill="#eefaff" />
<rect x="645.35" y="374.80" width="6.90" height="6.90" fill="#eefaff" />
<rect x="664.60" y="374.80" width="6.90" height="6.90" fill="#eefaff" />
<rect x="683.85" y="374.80" width="6.90" height="6.90" fill="#eefaff" />
<rect x="703.10" y="374.80" width="6.90" height="6.90" fill="#eefaff" />
<rect x="722.35" y="374.80" width="6.90" height="6.90" fill="#eefaff" />
<rect x="741.60" y="374.80" width="6.90" height="6.90" fill="#eefaff" />
<rect x="760.85" y="374.80" width="6.90" height="6.90" fill="#eefaff" />
<rect x="780.10" y="374.80" width="6.90" height="6.90" fill="#eefaff" />
<rect x="799.35" y="374.80" width="6.90" height="6.90" fill="#eefaff" />
<rect x="818.60" y="374.80" width="6.90" height="6.90" fill="#eefaff" />
<rect x="837.85" y="374.80" width="6.90" height="6.90" fill="#eefaff" />
<rect x="857.10" y="374.80" width="6.90" height="6.90" fill="#eefaff" />
<rect x="447.50" y="461.85" width="24.80" height="57.70" fill="none" stroke="#eefaff" stroke-width="5.2" rx="1.2" />
<rect x="450.10" y="464.50" width="19.60" height="52.40" fill="none" stroke="#cfe0ea" stroke-width="0.5" />
<rect x="451.20" y="465.00" width="18.50" height="13.50" fill="#e2c250" />
<rect x="451.20" y="502.90" width="18.50" height="13.60" fill="#e2c250" />
<rect x="456.90" y="463.90" width="7.00" height="2.00" fill="#e2c250" />
<rect x="456.90" y="515.50" width="7.00" height="2.00" fill="#e2c250" />
<rect x="452.30" y="475.00" width="15.80" height="32.50" fill="#e2e4e6" />
<rect x="452.30" y="479.70" width="15.80" height="22.70" fill="#3f3f3f" />
<text x="461.60" y="491.00" font-family="'Liberation Sans', sans-serif" font-size="3.6" fill="#d8d8d8" text-anchor="middle" font-weight="normal" transform="rotate(-90 461.60 491.00)">0603</text>
<rect x="720.60" y="461.85" width="24.80" height="57.70" fill="none" stroke="#eefaff" stroke-width="5.2" rx="1.2" />
<rect x="723.20" y="464.50" width="19.60" height="52.40" fill="none" stroke="#cfe0ea" stroke-width="0.5" />
<rect x="724.30" y="465.00" width="18.50" height="13.50" fill="#e2c250" />
<rect x="724.30" y="502.90" width="18.50" height="13.60" fill="#e2c250" />
<rect x="730.00" y="463.90" width="7.00" height="2.00" fill="#e2c250" />
<rect x="730.00" y="515.50" width="7.00" height="2.00" fill="#e2c250" />
<rect x="725.40" y="475.00" width="15.80" height="32.50" fill="#e2e4e6" />
<rect x="725.40" y="479.70" width="15.80" height="22.70" fill="#3f3f3f" />
<text x="734.70" y="491.00" font-family="'Liberation Sans', sans-serif" font-size="3.6" fill="#d8d8d8" text-anchor="middle" font-weight="normal" transform="rotate(-90 734.70 491.00)">0603</text>
<rect x="546.20" y="443.30" width="14.20" height="26.00" fill="#e2c250" />
<rect x="525.80" y="493.00" width="14.70" height="27.00" fill="#e2c250" />
<rect x="565.80" y="493.00" width="14.70" height="27.00" fill="#e2c250" />
<rect x="549.00" y="456.00" width="9.00" height="11.00" fill="#c4c4c4" />
<rect x="528.80" y="496.00" width="9.00" height="10.00" fill="#c4c4c4" />
<rect x="568.80" y="496.00" width="9.00" height="10.00" fill="#c4c4c4" />
<path d="M521.40,487.5 V465.6 H540.50" fill="none" stroke="#eefaff" stroke-width="4" />
<path d="M585.10,487.5 V465.6 H565.80" fill="none" stroke="#eefaff" stroke-width="4" />
<rect x="522.00" y="468.30" width="62.50" height="26.20" fill="#3f3f3f" />
<text x="553.20" y="483.60" font-family="'Liberation Sans', sans-serif" font-size="7.6" fill="#a4a4a4" text-anchor="middle" font-weight="normal" >SOT23–3</text>
<circle cx="519.50" cy="515.80" r="5.30" fill="#eefaff" />
<rect x="817.50" y="443.30" width="14.20" height="26.00" fill="#e2c250" />
<rect x="797.10" y="493.00" width="14.70" height="27.00" fill="#e2c250" />
<rect x="837.10" y="493.00" width="14.70" height="27.00" fill="#e2c250" />
<rect x="820.30" y="456.00" width="9.00" height="11.00" fill="#c4c4c4" />
<rect x="800.10" y="496.00" width="9.00" height="10.00" fill="#c4c4c4" />
<rect x="840.10" y="496.00" width="9.00" height="10.00" fill="#c4c4c4" />
<path d="M792.70,487.5 V465.6 H811.80" fill="none" stroke="#eefaff" stroke-width="4" />
<path d="M856.40,487.5 V465.6 H837.10" fill="none" stroke="#eefaff" stroke-width="4" />
<rect x="793.30" y="468.30" width="62.50" height="26.20" fill="#3f3f3f" />
<text x="824.50" y="483.60" font-family="'Liberation Sans', sans-serif" font-size="7.6" fill="#a4a4a4" text-anchor="middle" font-weight="normal" >SOT23–3</text>
<circle cx="790.80" cy="515.80" r="5.30" fill="#eefaff" />
<path d="M630.70,474.2 V446.5 H662.50 V474.2" fill="none" stroke="#eefaff" stroke-width="4" />
<path d="M630.70,506.7 V524.5 L640.20,533.5 H653.00 L662.50,524.5 V506.7" fill="none" stroke="#eefaff" stroke-width="4" />
<rect x="636.30" y="448.70" width="20.40" height="24.00" fill="#e2c250" />
<polygon points="636.30,505.00 656.70,505.00 656.70,523.50 651.20,530.80 641.70,530.80 636.30,523.50" fill="#e2c250" />
<rect x="643.30" y="461.00" width="6.40" height="10.00" fill="#c4c4c4" />
<rect x="643.30" y="506.00" width="6.40" height="10.50" fill="#c4c4c4" />
<rect x="633.70" y="470.80" width="26.30" height="35.90" fill="#3f3f3f" />
<line x1="635.20" y1="498.20" x2="658.50" y2="498.20" stroke="#8a8a8a" stroke-width="0.9" />
<line x1="635.20" y1="500.40" x2="658.50" y2="500.40" stroke="#8a8a8a" stroke-width="0.9" />
<line x1="635.20" y1="502.60" x2="658.50" y2="502.60" stroke="#8a8a8a" stroke-width="0.9" />
<text x="648.30" y="484.00" font-family="'Liberation Sans', sans-serif" font-size="4.2" fill="#a4a4a4" text-anchor="middle" font-weight="normal" transform="rotate(-90 648.30 484.00)">SOD-323</text>
<path d="M902.00,474.2 V446.5 H933.80 V474.2" fill="none" stroke="#eefaff" stroke-width="4" />
<path d="M902.00,506.7 V524.5 L911.50,533.5 H924.30 L933.80,524.5 V506.7" fill="none" stroke="#eefaff" stroke-width="4" />
<rect x="907.60" y="448.70" width="20.40" height="24.00" fill="#e2c250" />
<polygon points="907.60,505.00 928.00,505.00 928.00,523.50 922.50,530.80 913.00,530.80 907.60,523.50" fill="#e2c250" />
<rect x="914.60" y="461.00" width="6.40" height="10.00" fill="#c4c4c4" />
<rect x="914.60" y="506.00" width="6.40" height="10.50" fill="#c4c4c4" />
<rect x="905.00" y="470.80" width="26.30" height="35.90" fill="#3f3f3f" />
<line x1="906.50" y1="498.20" x2="929.80" y2="498.20" stroke="#8a8a8a" stroke-width="0.9" />
<line x1="906.50" y1="500.40" x2="929.80" y2="500.40" stroke="#8a8a8a" stroke-width="0.9" />
<line x1="906.50" y1="502.60" x2="929.80" y2="502.60" stroke="#8a8a8a" stroke-width="0.9" />
<text x="919.60" y="484.00" font-family="'Liberation Sans', sans-serif" font-size="4.2" fill="#a4a4a4" text-anchor="middle" font-weight="normal" transform="rotate(-90 919.60 484.00)">SOD-323</text>
<text x="459.70" y="440.30" font-family="'Liberation Sans', sans-serif" font-size="27" fill="#eefaff" text-anchor="middle" font-weight="normal" >R19</text>
<text x="557.20" y="439.30" font-family="'Liberation Sans', sans-serif" font-size="27" fill="#eefaff" text-anchor="middle" font-weight="normal" >Q11</text>
<text x="646.80" y="440.30" font-family="'Liberation Sans', sans-serif" font-size="27" fill="#eefaff" text-anchor="middle" font-weight="normal" >D1</text>
<text x="731.20" y="440.30" font-family="'Liberation Sans', sans-serif" font-size="27" fill="#eefaff" text-anchor="middle" font-weight="normal" >R18</text>
<text x="827.70" y="439.30" font-family="'Liberation Sans', sans-serif" font-size="27" fill="#eefaff" text-anchor="middle" font-weight="normal" >Q10</text>
<text x="917.30" y="440.30" font-family="'Liberation Sans', sans-serif" font-size="27" fill="#eefaff" text-anchor="middle" font-weight="normal" >D2</text>
<rect x="474.10" y="607.60" width="53.60" height="53.60" fill="#e3c24e" stroke="#f2e7b0" stroke-width="0.8" />
<rect x="624.90" y="607.60" width="53.60" height="53.60" fill="#e3c24e" stroke="#f2e7b0" stroke-width="0.8" />
<rect x="474.10" y="758.20" width="53.60" height="53.60" fill="#e3c24e" stroke="#f2e7b0" stroke-width="0.8" />
<rect x="624.90" y="758.20" width="53.60" height="53.60" fill="#e3c24e" stroke="#f2e7b0" stroke-width="0.8" />
<line x1="531.00" y1="621.80" x2="622.00" y2="621.80" stroke="#eefaff" stroke-width="4.6" stroke-linecap="round"/>
<line x1="529.00" y1="797.60" x2="624.00" y2="797.60" stroke="#eefaff" stroke-width="4.6" stroke-linecap="round"/>
<line x1="486.20" y1="664.50" x2="486.20" y2="754.50" stroke="#eefaff" stroke-width="4.6" stroke-linecap="round"/>
<line x1="666.70" y1="664.50" x2="666.70" y2="754.50" stroke="#eefaff" stroke-width="4.6" stroke-linecap="round"/>
<rect x="500.00" y="630.90" width="156.20" height="156.60" fill="#c6c6c6" />
<polygon points="521.80,630.90 634.40,630.90 656.20,652.70 656.20,765.70 634.40,787.50 521.80,787.50 500.00,765.70 500.00,652.70" fill="#4c4c4c" stroke="#444" stroke-width="1" />
<polygon points="656.20,765.70 656.20,787.50 634.40,787.50" fill="#e3c24e" />
<circle cx="625.10" cy="662.00" r="10.40" fill="#808080" />
<line x1="618.30" y1="662.00" x2="631.90" y2="662.00" stroke="#444" stroke-width="2.2" />
<line x1="625.10" y1="655.20" x2="625.10" y2="668.80" stroke="#444" stroke-width="2.2" />
<polygon points="566.00,757.60 590.30,757.60 578.10,772.60" fill="#848484" />
<text x="579.00" y="866.80" font-family="'Liberation Sans', sans-serif" font-size="27.5" fill="#eefaff" text-anchor="middle" font-weight="normal" >BEEP</text>
<circle cx="838.20" cy="704.90" r="127.40" fill="#3f3f3f" stroke="#eefaff" stroke-width="2.6" />
<circle cx="920.20" cy="704.20" r="19.60" fill="none" stroke="#b4aaa2" stroke-width="2.6" />
<line x1="900.60" y1="704.20" x2="939.80" y2="704.20" stroke="#b4aaa2" stroke-width="2.6" />
<line x1="920.20" y1="684.60" x2="920.20" y2="723.80" stroke="#b4aaa2" stroke-width="2.6" />
<text x="834.50" y="866.80" font-family="'Liberation Sans', sans-serif" font-size="27.5" fill="#eefaff" text-anchor="middle" font-weight="normal" >BUZZ</text>
<rect x="960.00" y="133.20" width="681.50" height="212.60" fill="#3f3f3f" stroke="#eefaff" stroke-width="5.8" rx="2" />
<polygon points="1014.50,165.60 1110.00,165.60 1111.48,168.60 1086.67,310.60 1083.82,312.60 989.32,312.60 987.34,309.60 1012.06,168.10" fill="#ffffff" />
<polygon points="1028.35,184.80 1089.45,184.80 1081.64,229.50 1020.54,229.50" fill="#3f3f3f" />
<polygon points="1017.18,248.70 1078.28,248.70 1070.47,293.40 1009.37,293.40" fill="#3f3f3f" />
<line x1="1012.50" y1="165.60" x2="1028.35" y2="184.80" stroke="#3f3f3f" stroke-width="1.1" />
<line x1="1112.00" y1="165.60" x2="1089.45" y2="184.80" stroke="#3f3f3f" stroke-width="1.1" />
<line x1="986.82" y1="312.60" x2="1009.37" y2="293.40" stroke="#3f3f3f" stroke-width="1.1" />
<line x1="1086.32" y1="312.60" x2="1070.47" y2="293.40" stroke="#3f3f3f" stroke-width="1.1" />
<line x1="999.66" y1="239.10" x2="1020.54" y2="229.50" stroke="#3f3f3f" stroke-width="1.1" />
<line x1="999.66" y1="239.10" x2="1017.18" y2="248.70" stroke="#3f3f3f" stroke-width="1.1" />
<line x1="1099.16" y1="239.10" x2="1081.64" y2="229.50" stroke="#3f3f3f" stroke-width="1.1" />
<line x1="1099.16" y1="239.10" x2="1078.28" y2="248.70" stroke="#3f3f3f" stroke-width="1.1" />
<circle cx="1105.60" cy="303.00" r="9.60" fill="#ffffff" />
<polygon points="1182.30,165.60 1277.80,165.60 1279.28,168.60 1254.47,310.60 1251.62,312.60 1157.12,312.60 1155.14,309.60 1179.86,168.10" fill="#ffffff" />
<polygon points="1196.15,184.80 1257.25,184.80 1249.44,229.50 1188.34,229.50" fill="#3f3f3f" />
<polygon points="1184.98,248.70 1246.08,248.70 1238.27,293.40 1177.17,293.40" fill="#3f3f3f" />
<line x1="1180.30" y1="165.60" x2="1196.15" y2="184.80" stroke="#3f3f3f" stroke-width="1.1" />
<line x1="1279.80" y1="165.60" x2="1257.25" y2="184.80" stroke="#3f3f3f" stroke-width="1.1" />
<line x1="1154.62" y1="312.60" x2="1177.17" y2="293.40" stroke="#3f3f3f" stroke-width="1.1" />
<line x1="1254.12" y1="312.60" x2="1238.27" y2="293.40" stroke="#3f3f3f" stroke-width="1.1" />
<line x1="1167.46" y1="239.10" x2="1188.34" y2="229.50" stroke="#3f3f3f" stroke-width="1.1" />
<line x1="1167.46" y1="239.10" x2="1184.98" y2="248.70" stroke="#3f3f3f" stroke-width="1.1" />
<line x1="1266.96" y1="239.10" x2="1249.44" y2="229.50" stroke="#3f3f3f" stroke-width="1.1" />
<line x1="1266.96" y1="239.10" x2="1246.08" y2="248.70" stroke="#3f3f3f" stroke-width="1.1" />
<circle cx="1273.40" cy="303.00" r="9.60" fill="#ffffff" />
<polygon points="1350.10,165.60 1445.60,165.60 1447.08,168.60 1422.27,310.60 1419.42,312.60 1324.92,312.60 1322.94,309.60 1347.66,168.10" fill="#ffffff" />
<polygon points="1363.95,184.80 1425.05,184.80 1417.24,229.50 1356.14,229.50" fill="#3f3f3f" />
<polygon points="1352.78,248.70 1413.88,248.70 1406.07,293.40 1344.97,293.40" fill="#3f3f3f" />
<line x1="1348.10" y1="165.60" x2="1363.95" y2="184.80" stroke="#3f3f3f" stroke-width="1.1" />
<line x1="1447.60" y1="165.60" x2="1425.05" y2="184.80" stroke="#3f3f3f" stroke-width="1.1" />
<line x1="1322.42" y1="312.60" x2="1344.97" y2="293.40" stroke="#3f3f3f" stroke-width="1.1" />
<line x1="1421.92" y1="312.60" x2="1406.07" y2="293.40" stroke="#3f3f3f" stroke-width="1.1" />
<line x1="1335.26" y1="239.10" x2="1356.14" y2="229.50" stroke="#3f3f3f" stroke-width="1.1" />
<line x1="1335.26" y1="239.10" x2="1352.78" y2="248.70" stroke="#3f3f3f" stroke-width="1.1" />
<line x1="1434.76" y1="239.10" x2="1417.24" y2="229.50" stroke="#3f3f3f" stroke-width="1.1" />
<line x1="1434.76" y1="239.10" x2="1413.88" y2="248.70" stroke="#3f3f3f" stroke-width="1.1" />
<circle cx="1441.20" cy="303.00" r="9.60" fill="#ffffff" />
<polygon points="1517.90,165.60 1613.40,165.60 1614.88,168.60 1590.07,310.60 1587.22,312.60 1492.72,312.60 1490.74,309.60 1515.46,168.10" fill="#ffffff" />
<polygon points="1531.75,184.80 1592.85,184.80 1585.04,229.50 1523.94,229.50" fill="#3f3f3f" />
<polygon points="1520.58,248.70 1581.68,248.70 1573.87,293.40 1512.77,293.40" fill="#3f3f3f" />
<line x1="1515.90" y1="165.60" x2="1531.75" y2="184.80" stroke="#3f3f3f" stroke-width="1.1" />
<line x1="1615.40" y1="165.60" x2="1592.85" y2="184.80" stroke="#3f3f3f" stroke-width="1.1" />
<line x1="1490.22" y1="312.60" x2="1512.77" y2="293.40" stroke="#3f3f3f" stroke-width="1.1" />
<line x1="1589.72" y1="312.60" x2="1573.87" y2="293.40" stroke="#3f3f3f" stroke-width="1.1" />
<line x1="1503.06" y1="239.10" x2="1523.94" y2="229.50" stroke="#3f3f3f" stroke-width="1.1" />
<line x1="1503.06" y1="239.10" x2="1520.58" y2="248.70" stroke="#3f3f3f" stroke-width="1.1" />
<line x1="1602.56" y1="239.10" x2="1585.04" y2="229.50" stroke="#3f3f3f" stroke-width="1.1" />
<line x1="1602.56" y1="239.10" x2="1581.68" y2="248.70" stroke="#3f3f3f" stroke-width="1.1" />
<circle cx="1609.00" cy="303.00" r="9.60" fill="#ffffff" />
<circle cx="1305.30" cy="203.00" r="9.60" fill="#ffffff" />
<circle cx="1294.20" cy="275.60" r="9.60" fill="#ffffff" />
<text x="976.50" y="93.50" font-family="'Liberation Serif', 'Noto Serif CJK SC', serif" font-size="71.0" fill="#eefaff" text-anchor="start" font-weight="300" >数电实验拓展板</text>
<text x="1473.30" y="100.60" font-family="'Liberation Sans', sans-serif" font-size="28.2" fill="#eefaff" text-anchor="start" font-weight="normal" >Ver2.0</text>
<line x1="984.40" y1="372.20" x2="984.40" y2="692.00" stroke="#eefaff" stroke-width="5.4" />
<line x1="1048.00" y1="372.20" x2="1048.00" y2="692.00" stroke="#eefaff" stroke-width="5.4" />
<line x1="1128.00" y1="372.20" x2="1128.00" y2="692.00" stroke="#eefaff" stroke-width="5.4" />
<line x1="1186.60" y1="372.20" x2="1186.60" y2="692.00" stroke="#eefaff" stroke-width="5.4" />
<line x1="981.70" y1="375.00" x2="1189.30" y2="375.00" stroke="#eefaff" stroke-width="5.4" />
<line x1="981.70" y1="412.30" x2="1189.30" y2="412.30" stroke="#eefaff" stroke-width="5.4" />
<line x1="981.70" y1="689.30" x2="1189.30" y2="689.30" stroke="#eefaff" stroke-width="5.4" />
<text x="1015.92" y="402.00" font-family="'Liberation Mono', monospace" font-size="25.3" fill="#eefaff" text-anchor="middle" font-weight="normal" letter-spacing="1.85" stroke="#eefaff" stroke-width="0.75" stroke-linejoin="round" >LED</text>
<text x="1087.92" y="402.00" font-family="'Liberation Mono', monospace" font-size="25.3" fill="#eefaff" text-anchor="middle" font-weight="normal" letter-spacing="1.85" stroke="#eefaff" stroke-width="0.75" stroke-linejoin="round" >GPIO</text>
<text x="1158.02" y="402.00" font-family="'Liberation Mono', monospace" font-size="25.3" fill="#eefaff" text-anchor="middle" font-weight="normal" letter-spacing="1.85" stroke="#eefaff" stroke-width="0.75" stroke-linejoin="round" >PIN</text>
<text x="1015.92" y="440.80" font-family="'Liberation Mono', monospace" font-size="25.3" fill="#eefaff" text-anchor="middle" font-weight="normal" letter-spacing="1.85" stroke="#eefaff" stroke-width="0.75" stroke-linejoin="round" >9</text>
<text x="1087.92" y="440.80" font-family="'Liberation Mono', monospace" font-size="25.3" fill="#eefaff" text-anchor="middle" font-weight="normal" letter-spacing="1.85" stroke="#eefaff" stroke-width="0.75" stroke-linejoin="round" >35</text>
<text x="1158.02" y="440.80" font-family="'Liberation Mono', monospace" font-size="25.3" fill="#eefaff" text-anchor="middle" font-weight="normal" letter-spacing="1.85" stroke="#eefaff" stroke-width="0.75" stroke-linejoin="round" >B4</text>
<text x="1015.92" y="467.47" font-family="'Liberation Mono', monospace" font-size="25.3" fill="#eefaff" text-anchor="middle" font-weight="normal" letter-spacing="1.85" stroke="#eefaff" stroke-width="0.75" stroke-linejoin="round" >8</text>
<text x="1087.92" y="467.47" font-family="'Liberation Mono', monospace" font-size="25.3" fill="#eefaff" text-anchor="middle" font-weight="normal" letter-spacing="1.85" stroke="#eefaff" stroke-width="0.75" stroke-linejoin="round" >34</text>
<text x="1158.02" y="467.47" font-family="'Liberation Mono', monospace" font-size="25.3" fill="#eefaff" text-anchor="middle" font-weight="normal" letter-spacing="1.85" stroke="#eefaff" stroke-width="0.75" stroke-linejoin="round" >A5</text>
<text x="1015.92" y="494.14" font-family="'Liberation Mono', monospace" font-size="25.3" fill="#eefaff" text-anchor="middle" font-weight="normal" letter-spacing="1.85" stroke="#eefaff" stroke-width="0.75" stroke-linejoin="round" >7</text>
<text x="1087.92" y="494.14" font-family="'Liberation Mono', monospace" font-size="25.3" fill="#eefaff" text-anchor="middle" font-weight="normal" letter-spacing="1.85" stroke="#eefaff" stroke-width="0.75" stroke-linejoin="round" >33</text>
<text x="1158.02" y="494.14" font-family="'Liberation Mono', monospace" font-size="25.3" fill="#eefaff" text-anchor="middle" font-weight="normal" letter-spacing="1.85" stroke="#eefaff" stroke-width="0.75" stroke-linejoin="round" >A7</text>
<text x="1015.92" y="520.81" font-family="'Liberation Mono', monospace" font-size="25.3" fill="#eefaff" text-anchor="middle" font-weight="normal" letter-spacing="1.85" stroke="#eefaff" stroke-width="0.75" stroke-linejoin="round" >6</text>
<text x="1087.92" y="520.81" font-family="'Liberation Mono', monospace" font-size="25.3" fill="#eefaff" text-anchor="middle" font-weight="normal" letter-spacing="1.85" stroke="#eefaff" stroke-width="0.75" stroke-linejoin="round" >32</text>
<text x="1158.02" y="520.81" font-family="'Liberation Mono', monospace" font-size="25.3" fill="#eefaff" text-anchor="middle" font-weight="normal" letter-spacing="1.85" stroke="#eefaff" stroke-width="0.75" stroke-linejoin="round" >B6</text>
<text x="1015.92" y="547.48" font-family="'Liberation Mono', monospace" font-size="25.3" fill="#eefaff" text-anchor="middle" font-weight="normal" letter-spacing="1.85" stroke="#eefaff" stroke-width="0.75" stroke-linejoin="round" >5</text>
<text x="1087.92" y="547.48" font-family="'Liberation Mono', monospace" font-size="25.3" fill="#eefaff" text-anchor="middle" font-weight="normal" letter-spacing="1.85" stroke="#eefaff" stroke-width="0.75" stroke-linejoin="round" >31</text>
<text x="1158.02" y="547.48" font-family="'Liberation Mono', monospace" font-size="25.3" fill="#eefaff" text-anchor="middle" font-weight="normal" letter-spacing="1.85" stroke="#eefaff" stroke-width="0.75" stroke-linejoin="round" >E7</text>
<text x="1015.92" y="574.15" font-family="'Liberation Mono', monospace" font-size="25.3" fill="#eefaff" text-anchor="middle" font-weight="normal" letter-spacing="1.85" stroke="#eefaff" stroke-width="0.75" stroke-linejoin="round" >4</text>
<text x="1087.92" y="574.15" font-family="'Liberation Mono', monospace" font-size="25.3" fill="#eefaff" text-anchor="middle" font-weight="normal" letter-spacing="1.85" stroke="#eefaff" stroke-width="0.75" stroke-linejoin="round" >30</text>
<text x="1158.02" y="574.15" font-family="'Liberation Mono', monospace" font-size="25.3" fill="#eefaff" text-anchor="middle" font-weight="normal" letter-spacing="1.85" stroke="#eefaff" stroke-width="0.75" stroke-linejoin="round" >D7</text>
<text x="1015.92" y="600.82" font-family="'Liberation Mono', monospace" font-size="25.3" fill="#eefaff" text-anchor="middle" font-weight="normal" letter-spacing="1.85" stroke="#eefaff" stroke-width="0.75" stroke-linejoin="round" >3</text>
<text x="1087.92" y="600.82" font-family="'Liberation Mono', monospace" font-size="25.3" fill="#eefaff" text-anchor="middle" font-weight="normal" letter-spacing="1.85" stroke="#eefaff" stroke-width="0.75" stroke-linejoin="round" >29</text>
<text x="1158.02" y="600.82" font-family="'Liberation Mono', monospace" font-size="25.3" fill="#eefaff" text-anchor="middle" font-weight="normal" letter-spacing="1.85" stroke="#eefaff" stroke-width="0.75" stroke-linejoin="round" >B7</text>
<text x="1015.92" y="627.49" font-family="'Liberation Mono', monospace" font-size="25.3" fill="#eefaff" text-anchor="middle" font-weight="normal" letter-spacing="1.85" stroke="#eefaff" stroke-width="0.75" stroke-linejoin="round" >2</text>
<text x="1087.92" y="627.49" font-family="'Liberation Mono', monospace" font-size="25.3" fill="#eefaff" text-anchor="middle" font-weight="normal" letter-spacing="1.85" stroke="#eefaff" stroke-width="0.75" stroke-linejoin="round" >28</text>
<text x="1158.02" y="627.49" font-family="'Liberation Mono', monospace" font-size="25.3" fill="#eefaff" text-anchor="middle" font-weight="normal" letter-spacing="1.85" stroke="#eefaff" stroke-width="0.75" stroke-linejoin="round" >C8</text>
<text x="1015.92" y="654.16" font-family="'Liberation Mono', monospace" font-size="25.3" fill="#eefaff" text-anchor="middle" font-weight="normal" letter-spacing="1.85" stroke="#eefaff" stroke-width="0.75" stroke-linejoin="round" >1</text>
<text x="1087.92" y="654.16" font-family="'Liberation Mono', monospace" font-size="25.3" fill="#eefaff" text-anchor="middle" font-weight="normal" letter-spacing="1.85" stroke="#eefaff" stroke-width="0.75" stroke-linejoin="round" >27</text>
<text x="1158.02" y="654.16" font-family="'Liberation Mono', monospace" font-size="25.3" fill="#eefaff" text-anchor="middle" font-weight="normal" letter-spacing="1.85" stroke="#eefaff" stroke-width="0.75" stroke-linejoin="round" >B8</text>
<text x="1015.92" y="680.83" font-family="'Liberation Mono', monospace" font-size="25.3" fill="#eefaff" text-anchor="middle" font-weight="normal" letter-spacing="1.85" stroke="#eefaff" stroke-width="0.75" stroke-linejoin="round" >0</text>
<text x="1087.92" y="680.83" font-family="'Liberation Mono', monospace" font-size="25.3" fill="#eefaff" text-anchor="middle" font-weight="normal" letter-spacing="1.85" stroke="#eefaff" stroke-width="0.75" stroke-linejoin="round" >26</text>
<text x="1159.32" y="680.83" font-family="'Liberation Mono', monospace" font-size="25.3" fill="#eefaff" text-anchor="middle" font-weight="normal" letter-spacing="1.85" stroke="#eefaff" stroke-width="0.75" stroke-linejoin="round" >D10</text>
<line x1="987.10" y1="552.50" x2="1045.30" y2="552.50" stroke="#eefaff" stroke-width="2.0" stroke-dasharray="3.6 2.6"/>
<line x1="1050.70" y1="552.50" x2="1125.30" y2="552.50" stroke="#eefaff" stroke-width="2.0" stroke-dasharray="3.6 2.6"/>
<line x1="1130.70" y1="552.50" x2="1183.90" y2="552.50" stroke="#eefaff" stroke-width="2.0" stroke-dasharray="3.6 2.6"/>
<line x1="1213.10" y1="372.20" x2="1213.10" y2="692.00" stroke="#eefaff" stroke-width="5.4" />
<line x1="1276.70" y1="372.20" x2="1276.70" y2="692.00" stroke="#eefaff" stroke-width="5.4" />
<line x1="1356.70" y1="372.20" x2="1356.70" y2="692.00" stroke="#eefaff" stroke-width="5.4" />
<line x1="1415.30" y1="372.20" x2="1415.30" y2="692.00" stroke="#eefaff" stroke-width="5.4" />
<line x1="1210.40" y1="375.00" x2="1418.00" y2="375.00" stroke="#eefaff" stroke-width="5.4" />
<line x1="1210.40" y1="412.30" x2="1418.00" y2="412.30" stroke="#eefaff" stroke-width="5.4" />
<line x1="1210.40" y1="689.30" x2="1418.00" y2="689.30" stroke="#eefaff" stroke-width="5.4" />
<text x="1244.62" y="402.00" font-family="'Liberation Mono', monospace" font-size="25.3" fill="#eefaff" text-anchor="middle" font-weight="normal" letter-spacing="1.85" stroke="#eefaff" stroke-width="0.75" stroke-linejoin="round" >SW</text>
<text x="1316.62" y="402.00" font-family="'Liberation Mono', monospace" font-size="25.3" fill="#eefaff" text-anchor="middle" font-weight="normal" letter-spacing="1.85" stroke="#eefaff" stroke-width="0.75" stroke-linejoin="round" >GPIO</text>
<text x="1386.72" y="402.00" font-family="'Liberation Mono', monospace" font-size="25.3" fill="#eefaff" text-anchor="middle" font-weight="normal" letter-spacing="1.85" stroke="#eefaff" stroke-width="0.75" stroke-linejoin="round" >PIN</text>
<text x="1244.62" y="440.80" font-family="'Liberation Mono', monospace" font-size="25.3" fill="#eefaff" text-anchor="middle" font-weight="normal" letter-spacing="1.85" stroke="#eefaff" stroke-width="0.75" stroke-linejoin="round" >9</text>
<text x="1316.62" y="440.80" font-family="'Liberation Mono', monospace" font-size="25.3" fill="#eefaff" text-anchor="middle" font-weight="normal" letter-spacing="1.85" stroke="#eefaff" stroke-width="0.75" stroke-linejoin="round" >23</text>
<text x="1388.02" y="440.80" font-family="'Liberation Mono', monospace" font-size="25.3" fill="#eefaff" text-anchor="middle" font-weight="normal" letter-spacing="1.85" stroke="#eefaff" stroke-width="0.75" stroke-linejoin="round" >A13</text>
<text x="1244.62" y="467.47" font-family="'Liberation Mono', monospace" font-size="25.3" fill="#eefaff" text-anchor="middle" font-weight="normal" letter-spacing="1.85" stroke="#eefaff" stroke-width="0.75" stroke-linejoin="round" >8</text>
<text x="1316.62" y="467.47" font-family="'Liberation Mono', monospace" font-size="25.3" fill="#eefaff" text-anchor="middle" font-weight="normal" letter-spacing="1.85" stroke="#eefaff" stroke-width="0.75" stroke-linejoin="round" >22</text>
<text x="1388.02" y="467.47" font-family="'Liberation Mono', monospace" font-size="25.3" fill="#eefaff" text-anchor="middle" font-weight="normal" letter-spacing="1.85" stroke="#eefaff" stroke-width="0.75" stroke-linejoin="round" >B11</text>
<text x="1244.62" y="494.14" font-family="'Liberation Mono', monospace" font-size="25.3" fill="#eefaff" text-anchor="middle" font-weight="normal" letter-spacing="1.85" stroke="#eefaff" stroke-width="0.75" stroke-linejoin="round" >7</text>
<text x="1316.62" y="494.14" font-family="'Liberation Mono', monospace" font-size="25.3" fill="#eefaff" text-anchor="middle" font-weight="normal" letter-spacing="1.85" stroke="#eefaff" stroke-width="0.75" stroke-linejoin="round" >21</text>
<text x="1388.02" y="494.14" font-family="'Liberation Mono', monospace" font-size="25.3" fill="#eefaff" text-anchor="middle" font-weight="normal" letter-spacing="1.85" stroke="#eefaff" stroke-width="0.75" stroke-linejoin="round" >A14</text>
<text x="1244.62" y="520.81" font-family="'Liberation Mono', monospace" font-size="25.3" fill="#eefaff" text-anchor="middle" font-weight="normal" letter-spacing="1.85" stroke="#eefaff" stroke-width="0.75" stroke-linejoin="round" >6</text>
<text x="1316.62" y="520.81" font-family="'Liberation Mono', monospace" font-size="25.3" fill="#eefaff" text-anchor="middle" font-weight="normal" letter-spacing="1.85" stroke="#eefaff" stroke-width="0.75" stroke-linejoin="round" >20</text>
<text x="1388.02" y="520.81" font-family="'Liberation Mono', monospace" font-size="25.3" fill="#eefaff" text-anchor="middle" font-weight="normal" letter-spacing="1.85" stroke="#eefaff" stroke-width="0.75" stroke-linejoin="round" >B13</text>
<text x="1244.62" y="547.48" font-family="'Liberation Mono', monospace" font-size="25.3" fill="#eefaff" text-anchor="middle" font-weight="normal" letter-spacing="1.85" stroke="#eefaff" stroke-width="0.75" stroke-linejoin="round" >5</text>
<text x="1316.62" y="547.48" font-family="'Liberation Mono', monospace" font-size="25.3" fill="#eefaff" text-anchor="middle" font-weight="normal" letter-spacing="1.85" stroke="#eefaff" stroke-width="0.75" stroke-linejoin="round" >19</text>
<text x="1388.02" y="547.48" font-family="'Liberation Mono', monospace" font-size="25.3" fill="#eefaff" text-anchor="middle" font-weight="normal" letter-spacing="1.85" stroke="#eefaff" stroke-width="0.75" stroke-linejoin="round" >B14</text>
<text x="1244.62" y="574.15" font-family="'Liberation Mono', monospace" font-size="25.3" fill="#eefaff" text-anchor="middle" font-weight="normal" letter-spacing="1.85" stroke="#eefaff" stroke-width="0.75" stroke-linejoin="round" >4</text>
<text x="1316.62" y="574.15" font-family="'Liberation Mono', monospace" font-size="25.3" fill="#eefaff" text-anchor="middle" font-weight="normal" letter-spacing="1.85" stroke="#eefaff" stroke-width="0.75" stroke-linejoin="round" >18</text>
<text x="1388.02" y="574.15" font-family="'Liberation Mono', monospace" font-size="25.3" fill="#eefaff" text-anchor="middle" font-weight="normal" letter-spacing="1.85" stroke="#eefaff" stroke-width="0.75" stroke-linejoin="round" >B15</text>
<text x="1244.62" y="600.82" font-family="'Liberation Mono', monospace" font-size="25.3" fill="#eefaff" text-anchor="middle" font-weight="normal" letter-spacing="1.85" stroke="#eefaff" stroke-width="0.75" stroke-linejoin="round" >3</text>
<text x="1316.62" y="600.82" font-family="'Liberation Mono', monospace" font-size="25.3" fill="#eefaff" text-anchor="middle" font-weight="normal" letter-spacing="1.85" stroke="#eefaff" stroke-width="0.75" stroke-linejoin="round" >17</text>
<text x="1388.02" y="600.82" font-family="'Liberation Mono', monospace" font-size="25.3" fill="#eefaff" text-anchor="middle" font-weight="normal" letter-spacing="1.85" stroke="#eefaff" stroke-width="0.75" stroke-linejoin="round" >P15</text>
<text x="1244.62" y="627.49" font-family="'Liberation Mono', monospace" font-size="25.3" fill="#eefaff" text-anchor="middle" font-weight="normal" letter-spacing="1.85" stroke="#eefaff" stroke-width="0.75" stroke-linejoin="round" >2</text>
<text x="1316.62" y="627.49" font-family="'Liberation Mono', monospace" font-size="25.3" fill="#eefaff" text-anchor="middle" font-weight="normal" letter-spacing="1.85" stroke="#eefaff" stroke-width="0.75" stroke-linejoin="round" >16</text>
<text x="1388.02" y="627.49" font-family="'Liberation Mono', monospace" font-size="25.3" fill="#eefaff" text-anchor="middle" font-weight="normal" letter-spacing="1.85" stroke="#eefaff" stroke-width="0.75" stroke-linejoin="round" >R14</text>
<text x="1244.62" y="654.16" font-family="'Liberation Mono', monospace" font-size="25.3" fill="#eefaff" text-anchor="middle" font-weight="normal" letter-spacing="1.85" stroke="#eefaff" stroke-width="0.75" stroke-linejoin="round" >1</text>
<text x="1316.62" y="654.16" font-family="'Liberation Mono', monospace" font-size="25.3" fill="#eefaff" text-anchor="middle" font-weight="normal" letter-spacing="1.85" stroke="#eefaff" stroke-width="0.75" stroke-linejoin="round" >15</text>
<text x="1388.02" y="654.16" font-family="'Liberation Mono', monospace" font-size="25.3" fill="#eefaff" text-anchor="middle" font-weight="normal" letter-spacing="1.85" stroke="#eefaff" stroke-width="0.75" stroke-linejoin="round" >P12</text>
<text x="1244.62" y="680.83" font-family="'Liberation Mono', monospace" font-size="25.3" fill="#eefaff" text-anchor="middle" font-weight="normal" letter-spacing="1.85" stroke="#eefaff" stroke-width="0.75" stroke-linejoin="round" >0</text>
<text x="1316.62" y="680.83" font-family="'Liberation Mono', monospace" font-size="25.3" fill="#eefaff" text-anchor="middle" font-weight="normal" letter-spacing="1.85" stroke="#eefaff" stroke-width="0.75" stroke-linejoin="round" >14</text>
<text x="1388.02" y="680.83" font-family="'Liberation Mono', monospace" font-size="25.3" fill="#eefaff" text-anchor="middle" font-weight="normal" letter-spacing="1.85" stroke="#eefaff" stroke-width="0.75" stroke-linejoin="round" >R11</text>
<line x1="1215.80" y1="552.50" x2="1274.00" y2="552.50" stroke="#eefaff" stroke-width="2.0" stroke-dasharray="3.6 2.6"/>
<line x1="1279.40" y1="552.50" x2="1354.00" y2="552.50" stroke="#eefaff" stroke-width="2.0" stroke-dasharray="3.6 2.6"/>
<line x1="1359.40" y1="552.50" x2="1412.60" y2="552.50" stroke="#eefaff" stroke-width="2.0" stroke-dasharray="3.6 2.6"/>
<line x1="1439.40" y1="372.20" x2="1439.40" y2="692.00" stroke="#eefaff" stroke-width="5.4" />
<line x1="1503.00" y1="372.20" x2="1503.00" y2="692.00" stroke="#eefaff" stroke-width="5.4" />
<line x1="1583.00" y1="372.20" x2="1583.00" y2="692.00" stroke="#eefaff" stroke-width="5.4" />
<line x1="1641.60" y1="372.20" x2="1641.60" y2="692.00" stroke="#eefaff" stroke-width="5.4" />
<line x1="1436.70" y1="375.00" x2="1644.30" y2="375.00" stroke="#eefaff" stroke-width="5.4" />
<line x1="1436.70" y1="412.30" x2="1644.30" y2="412.30" stroke="#eefaff" stroke-width="5.4" />
<line x1="1436.70" y1="689.30" x2="1644.30" y2="689.30" stroke="#eefaff" stroke-width="5.4" />
<text x="1470.92" y="402.00" font-family="'Liberation Mono', monospace" font-size="25.3" fill="#eefaff" text-anchor="middle" font-weight="normal" letter-spacing="1.85" stroke="#eefaff" stroke-width="0.75" stroke-linejoin="round" >SEG</text>
<text x="1542.92" y="402.00" font-family="'Liberation Mono', monospace" font-size="25.3" fill="#eefaff" text-anchor="middle" font-weight="normal" letter-spacing="1.85" stroke="#eefaff" stroke-width="0.75" stroke-linejoin="round" >GPIO</text>
<text x="1613.02" y="402.00" font-family="'Liberation Mono', monospace" font-size="25.3" fill="#eefaff" text-anchor="middle" font-weight="normal" letter-spacing="1.85" stroke="#eefaff" stroke-width="0.75" stroke-linejoin="round" >PIN</text>
<text x="1470.92" y="441.60" font-family="'Liberation Mono', monospace" font-size="25.3" fill="#eefaff" text-anchor="middle" font-weight="normal" letter-spacing="1.85" stroke="#eefaff" stroke-width="0.75" stroke-linejoin="round" >A</text>
<text x="1542.92" y="441.60" font-family="'Liberation Mono', monospace" font-size="25.3" fill="#eefaff" text-anchor="middle" font-weight="normal" letter-spacing="1.85" stroke="#eefaff" stroke-width="0.75" stroke-linejoin="round" >9</text>
<text x="1613.02" y="441.60" font-family="'Liberation Mono', monospace" font-size="25.3" fill="#eefaff" text-anchor="middle" font-weight="normal" letter-spacing="1.85" stroke="#eefaff" stroke-width="0.75" stroke-linejoin="round" >R7</text>
<text x="1470.92" y="475.70" font-family="'Liberation Mono', monospace" font-size="25.3" fill="#eefaff" text-anchor="middle" font-weight="normal" letter-spacing="1.85" stroke="#eefaff" stroke-width="0.75" stroke-linejoin="round" >B</text>
<text x="1542.92" y="475.70" font-family="'Liberation Mono', monospace" font-size="25.3" fill="#eefaff" text-anchor="middle" font-weight="normal" letter-spacing="1.85" stroke="#eefaff" stroke-width="0.75" stroke-linejoin="round" >8</text>
<text x="1613.02" y="475.70" font-family="'Liberation Mono', monospace" font-size="25.3" fill="#eefaff" text-anchor="middle" font-weight="normal" letter-spacing="1.85" stroke="#eefaff" stroke-width="0.75" stroke-linejoin="round" >P6</text>
<text x="1470.92" y="509.80" font-family="'Liberation Mono', monospace" font-size="25.3" fill="#eefaff" text-anchor="middle" font-weight="normal" letter-spacing="1.85" stroke="#eefaff" stroke-width="0.75" stroke-linejoin="round" >C</text>
<text x="1542.92" y="509.80" font-family="'Liberation Mono', monospace" font-size="25.3" fill="#eefaff" text-anchor="middle" font-weight="normal" letter-spacing="1.85" stroke="#eefaff" stroke-width="0.75" stroke-linejoin="round" >7</text>
<text x="1613.02" y="509.80" font-family="'Liberation Mono', monospace" font-size="25.3" fill="#eefaff" text-anchor="middle" font-weight="normal" letter-spacing="1.85" stroke="#eefaff" stroke-width="0.75" stroke-linejoin="round" >R5</text>
<text x="1470.92" y="543.90" font-family="'Liberation Mono', monospace" font-size="25.3" fill="#eefaff" text-anchor="middle" font-weight="normal" letter-spacing="1.85" stroke="#eefaff" stroke-width="0.75" stroke-linejoin="round" >D</text>
<text x="1542.92" y="543.90" font-family="'Liberation Mono', monospace" font-size="25.3" fill="#eefaff" text-anchor="middle" font-weight="normal" letter-spacing="1.85" stroke="#eefaff" stroke-width="0.75" stroke-linejoin="round" >6</text>
<text x="1613.02" y="543.90" font-family="'Liberation Mono', monospace" font-size="25.3" fill="#eefaff" text-anchor="middle" font-weight="normal" letter-spacing="1.85" stroke="#eefaff" stroke-width="0.75" stroke-linejoin="round" >L7</text>
<text x="1470.92" y="578.00" font-family="'Liberation Mono', monospace" font-size="25.3" fill="#eefaff" text-anchor="middle" font-weight="normal" letter-spacing="1.85" stroke="#eefaff" stroke-width="0.75" stroke-linejoin="round" >E</text>
<text x="1542.92" y="578.00" font-family="'Liberation Mono', monospace" font-size="25.3" fill="#eefaff" text-anchor="middle" font-weight="normal" letter-spacing="1.85" stroke="#eefaff" stroke-width="0.75" stroke-linejoin="round" >5</text>
<text x="1613.02" y="578.00" font-family="'Liberation Mono', monospace" font-size="25.3" fill="#eefaff" text-anchor="middle" font-weight="normal" letter-spacing="1.85" stroke="#eefaff" stroke-width="0.75" stroke-linejoin="round" >P4</text>
<text x="1470.92" y="612.10" font-family="'Liberation Mono', monospace" font-size="25.3" fill="#eefaff" text-anchor="middle" font-weight="normal" letter-spacing="1.85" stroke="#eefaff" stroke-width="0.75" stroke-linejoin="round" >F</text>
<text x="1542.92" y="612.10" font-family="'Liberation Mono', monospace" font-size="25.3" fill="#eefaff" text-anchor="middle" font-weight="normal" letter-spacing="1.85" stroke="#eefaff" stroke-width="0.75" stroke-linejoin="round" >4</text>
<text x="1613.02" y="612.10" font-family="'Liberation Mono', monospace" font-size="25.3" fill="#eefaff" text-anchor="middle" font-weight="normal" letter-spacing="1.85" stroke="#eefaff" stroke-width="0.75" stroke-linejoin="round" >L6</text>
<text x="1470.92" y="646.20" font-family="'Liberation Mono', monospace" font-size="25.3" fill="#eefaff" text-anchor="middle" font-weight="normal" letter-spacing="1.85" stroke="#eefaff" stroke-width="0.75" stroke-linejoin="round" >G</text>
<text x="1542.92" y="646.20" font-family="'Liberation Mono', monospace" font-size="25.3" fill="#eefaff" text-anchor="middle" font-weight="normal" letter-spacing="1.85" stroke="#eefaff" stroke-width="0.75" stroke-linejoin="round" >3</text>
<text x="1613.02" y="646.20" font-family="'Liberation Mono', monospace" font-size="25.3" fill="#eefaff" text-anchor="middle" font-weight="normal" letter-spacing="1.85" stroke="#eefaff" stroke-width="0.75" stroke-linejoin="round" >R3</text>
<text x="1470.92" y="680.30" font-family="'Liberation Mono', monospace" font-size="25.3" fill="#eefaff" text-anchor="middle" font-weight="normal" letter-spacing="1.85" stroke="#eefaff" stroke-width="0.75" stroke-linejoin="round" >DP</text>
<text x="1542.92" y="680.30" font-family="'Liberation Mono', monospace" font-size="25.3" fill="#eefaff" text-anchor="middle" font-weight="normal" letter-spacing="1.85" stroke="#eefaff" stroke-width="0.75" stroke-linejoin="round" >2</text>
<text x="1613.02" y="680.30" font-family="'Liberation Mono', monospace" font-size="25.3" fill="#eefaff" text-anchor="middle" font-weight="normal" letter-spacing="1.85" stroke="#eefaff" stroke-width="0.75" stroke-linejoin="round" >M5</text>
<line x1="1442.10" y1="552.50" x2="1500.30" y2="552.50" stroke="#eefaff" stroke-width="2.0" stroke-dasharray="3.6 2.6"/>
<line x1="1505.70" y1="552.50" x2="1580.30" y2="552.50" stroke="#eefaff" stroke-width="2.0" stroke-dasharray="3.6 2.6"/>
<line x1="1585.70" y1="552.50" x2="1638.90" y2="552.50" stroke="#eefaff" stroke-width="2.0" stroke-dasharray="3.6 2.6"/>
<line x1="984.00" y1="705.00" x2="984.00" y2="867.10" stroke="#eefaff" stroke-width="5.4" />
<line x1="1077.40" y1="705.00" x2="1077.40" y2="867.10" stroke="#eefaff" stroke-width="5.4" />
<line x1="1162.50" y1="705.00" x2="1162.50" y2="867.10" stroke="#eefaff" stroke-width="5.4" />
<line x1="1226.00" y1="705.00" x2="1226.00" y2="867.10" stroke="#eefaff" stroke-width="5.4" />
<line x1="981.30" y1="707.80" x2="1228.70" y2="707.80" stroke="#eefaff" stroke-width="5.4" />
<line x1="981.30" y1="864.30" x2="1228.70" y2="864.30" stroke="#eefaff" stroke-width="5.4" />
<line x1="984.00" y1="744.40" x2="1226.00" y2="744.40" stroke="#eefaff" stroke-width="5.4" />
<line x1="984.00" y1="810.90" x2="1077.40" y2="810.90" stroke="#eefaff" stroke-width="5.4" />
<line x1="984.00" y1="837.50" x2="1077.40" y2="837.50" stroke="#eefaff" stroke-width="5.4" />
<line x1="984.00" y1="707.80" x2="1077.40" y2="744.40" stroke="#eefaff" stroke-width="5.4" />
<line x1="984.00" y1="810.90" x2="1077.40" y2="837.50" stroke="#eefaff" stroke-width="5.4" />
<line x1="984.00" y1="837.50" x2="1077.40" y2="864.30" stroke="#eefaff" stroke-width="5.4" />
<text x="1119.72" y="733.60" font-family="'Liberation Mono', monospace" font-size="25.3" fill="#eefaff" text-anchor="middle" font-weight="normal" letter-spacing="1.85" stroke="#eefaff" stroke-width="0.75" stroke-linejoin="round" >GPIO</text>
<text x="1195.62" y="733.60" font-family="'Liberation Mono', monospace" font-size="25.3" fill="#eefaff" text-anchor="middle" font-weight="normal" letter-spacing="1.85" stroke="#eefaff" stroke-width="0.75" stroke-linejoin="round" >PIN</text>
<text x="994.00" y="773.30" font-family="'Liberation Mono', monospace" font-size="25.3" fill="#eefaff" text-anchor="start" font-weight="normal" letter-spacing="1.85" stroke="#eefaff" stroke-width="0.75" stroke-linejoin="round" >BUZZ</text>
<text x="994.00" y="800.20" font-family="'Liberation Mono', monospace" font-size="25.3" fill="#eefaff" text-anchor="start" font-weight="normal" letter-spacing="1.85" stroke="#eefaff" stroke-width="0.75" stroke-linejoin="round" >BEEP</text>
<text x="1117.52" y="773.30" font-family="'Liberation Mono', monospace" font-size="25.3" fill="#eefaff" text-anchor="middle" font-weight="normal" letter-spacing="1.85" stroke="#eefaff" stroke-width="0.75" stroke-linejoin="round" >25</text>
<text x="1117.52" y="800.20" font-family="'Liberation Mono', monospace" font-size="25.3" fill="#eefaff" text-anchor="middle" font-weight="normal" letter-spacing="1.85" stroke="#eefaff" stroke-width="0.75" stroke-linejoin="round" >24</text>
<text x="1117.52" y="828.30" font-family="'Liberation Mono', monospace" font-size="25.3" fill="#eefaff" text-anchor="middle" font-weight="normal" letter-spacing="1.85" stroke="#eefaff" stroke-width="0.75" stroke-linejoin="round" >1</text>
<text x="1117.52" y="855.60" font-family="'Liberation Mono', monospace" font-size="25.3" fill="#eefaff" text-anchor="middle" font-weight="normal" letter-spacing="1.85" stroke="#eefaff" stroke-width="0.75" stroke-linejoin="round" >0</text>
<text x="1170.40" y="773.30" font-family="'Liberation Mono', monospace" font-size="25.3" fill="#eefaff" text-anchor="start" font-weight="normal" letter-spacing="1.85" stroke="#eefaff" stroke-width="0.75" stroke-linejoin="round" >A9</text>
<text x="1170.40" y="800.20" font-family="'Liberation Mono', monospace" font-size="25.3" fill="#eefaff" text-anchor="start" font-weight="normal" letter-spacing="1.85" stroke="#eefaff" stroke-width="0.75" stroke-linejoin="round" >A11</text>
<text x="1170.40" y="828.30" font-family="'Liberation Mono', monospace" font-size="25.3" fill="#eefaff" text-anchor="start" font-weight="normal" letter-spacing="1.85" stroke="#eefaff" stroke-width="0.75" stroke-linejoin="round" >P3</text>
<text x="1170.40" y="855.60" font-family="'Liberation Mono', monospace" font-size="25.3" fill="#eefaff" text-anchor="start" font-weight="normal" letter-spacing="1.85" stroke="#eefaff" stroke-width="0.75" stroke-linejoin="round" >M4</text>
<line x1="1439.10" y1="705.00" x2="1439.10" y2="866.90" stroke="#eefaff" stroke-width="5.4" />
<line x1="1503.00" y1="705.00" x2="1503.00" y2="866.90" stroke="#eefaff" stroke-width="5.4" />
<line x1="1582.80" y1="705.00" x2="1582.80" y2="866.90" stroke="#eefaff" stroke-width="5.4" />
<line x1="1641.60" y1="705.00" x2="1641.60" y2="866.90" stroke="#eefaff" stroke-width="5.4" />
<line x1="1436.40" y1="707.80" x2="1644.30" y2="707.80" stroke="#eefaff" stroke-width="5.4" />
<line x1="1436.40" y1="746.60" x2="1644.30" y2="746.60" stroke="#eefaff" stroke-width="5.4" />
<line x1="1436.40" y1="864.20" x2="1644.30" y2="864.20" stroke="#eefaff" stroke-width="5.4" />
<text x="1471.17" y="735.40" font-family="'Liberation Mono', monospace" font-size="25.3" fill="#eefaff" text-anchor="middle" font-weight="normal" letter-spacing="1.85" stroke="#eefaff" stroke-width="0.75" stroke-linejoin="round" >DIG</text>
<text x="1543.42" y="735.40" font-family="'Liberation Mono', monospace" font-size="25.3" fill="#eefaff" text-anchor="middle" font-weight="normal" letter-spacing="1.85" stroke="#eefaff" stroke-width="0.75" stroke-linejoin="round" >GPIO</text>
<text x="1612.92" y="735.40" font-family="'Liberation Mono', monospace" font-size="25.3" fill="#eefaff" text-anchor="middle" font-weight="normal" letter-spacing="1.85" stroke="#eefaff" stroke-width="0.75" stroke-linejoin="round" >PIN</text>
<text x="1471.17" y="775.40" font-family="'Liberation Mono', monospace" font-size="25.3" fill="#eefaff" text-anchor="middle" font-weight="normal" letter-spacing="1.85" stroke="#eefaff" stroke-width="0.75" stroke-linejoin="round" >1</text>
<text x="1543.42" y="775.40" font-family="'Liberation Mono', monospace" font-size="25.3" fill="#eefaff" text-anchor="middle" font-weight="normal" letter-spacing="1.85" stroke="#eefaff" stroke-width="0.75" stroke-linejoin="round" >13</text>
<text x="1612.92" y="775.40" font-family="'Liberation Mono', monospace" font-size="25.3" fill="#eefaff" text-anchor="middle" font-weight="normal" letter-spacing="1.85" stroke="#eefaff" stroke-width="0.75" stroke-linejoin="round" >R9</text>
<text x="1471.17" y="801.80" font-family="'Liberation Mono', monospace" font-size="25.3" fill="#eefaff" text-anchor="middle" font-weight="normal" letter-spacing="1.85" stroke="#eefaff" stroke-width="0.75" stroke-linejoin="round" >2</text>
<text x="1543.42" y="801.80" font-family="'Liberation Mono', monospace" font-size="25.3" fill="#eefaff" text-anchor="middle" font-weight="normal" letter-spacing="1.85" stroke="#eefaff" stroke-width="0.75" stroke-linejoin="round" >12</text>
<text x="1612.92" y="801.80" font-family="'Liberation Mono', monospace" font-size="25.3" fill="#eefaff" text-anchor="middle" font-weight="normal" letter-spacing="1.85" stroke="#eefaff" stroke-width="0.75" stroke-linejoin="round" >P9</text>
<text x="1471.17" y="828.20" font-family="'Liberation Mono', monospace" font-size="25.3" fill="#eefaff" text-anchor="middle" font-weight="normal" letter-spacing="1.85" stroke="#eefaff" stroke-width="0.75" stroke-linejoin="round" >3</text>
<text x="1543.42" y="828.20" font-family="'Liberation Mono', monospace" font-size="25.3" fill="#eefaff" text-anchor="middle" font-weight="normal" letter-spacing="1.85" stroke="#eefaff" stroke-width="0.75" stroke-linejoin="round" >11</text>
<text x="1612.92" y="828.20" font-family="'Liberation Mono', monospace" font-size="25.3" fill="#eefaff" text-anchor="middle" font-weight="normal" letter-spacing="1.85" stroke="#eefaff" stroke-width="0.75" stroke-linejoin="round" >P8</text>
<text x="1471.17" y="854.60" font-family="'Liberation Mono', monospace" font-size="25.3" fill="#eefaff" text-anchor="middle" font-weight="normal" letter-spacing="1.85" stroke="#eefaff" stroke-width="0.75" stroke-linejoin="round" >4</text>
<text x="1543.42" y="854.60" font-family="'Liberation Mono', monospace" font-size="25.3" fill="#eefaff" text-anchor="middle" font-weight="normal" letter-spacing="1.85" stroke="#eefaff" stroke-width="0.75" stroke-linejoin="round" >10</text>
<text x="1612.92" y="854.60" font-family="'Liberation Mono', monospace" font-size="25.3" fill="#eefaff" text-anchor="middle" font-weight="normal" letter-spacing="1.85" stroke="#eefaff" stroke-width="0.75" stroke-linejoin="round" >P7</text>
<text x="1235.00" y="739.80" font-family="'Liberation Serif', 'Noto Serif CJK SC', serif" font-size="39.4" fill="#eefaff" text-anchor="start" font-weight="300" >引脚对照表</text>
<circle cx="1335.00" cy="808.00" r="56.60" fill="none" stroke="#eefaff" stroke-width="2.6" />
<circle cx="1335.00" cy="808.00" r="38.20" fill="none" stroke="#eefaff" stroke-width="1.9" />
<defs><path id="arcTop" d="M1291.82,814.07 A43.6,43.6 0 1 1 1378.18,814.07"/><path id="arcBot" d="M1284.06,820.70 A52.5,52.5 0 0 0 1385.94,820.70"/></defs>
<text font-family="'Liberation Sans', sans-serif" font-size="9.3" font-weight="bold" fill="#eefaff" letter-spacing="0.25"><textPath href="#arcTop" startOffset="50%" text-anchor="middle">YANGTZE NORMAL UNIVERSITY</textPath></text>
<text font-family="'Liberation Serif', 'Noto Serif CJK SC', serif" font-size="10.5" font-weight="bold" font-style="italic" fill="#eefaff" letter-spacing="10.5"><textPath href="#arcBot" startOffset="50%" text-anchor="middle">长江师范学院</textPath></text>
<text x="1335.00" y="842.30" font-family="'Liberation Serif', serif" font-size="8.2" fill="#eefaff" text-anchor="middle" font-weight="bold" font-style="italic" letter-spacing="1.6">1931</text>
<polygon points="1306.42,800.67 1308.40,796.00 1311.09,793.09 1316.34,791.34 1325.67,789.94 1333.84,791.57 1337.10,787.84 1337.92,783.75 1338.74,781.77 1346.67,785.50 1357.17,791.34 1360.90,796.24 1358.34,803.00 1365.11,810.00 1358.34,812.92 1357.17,817.00 1349.00,820.50 1340.84,825.75 1336.75,829.25 1330.92,824.00 1321.00,821.67 1312.25,815.25 1307.24,808.25" fill="#eefaff" stroke-linejoin="round"/>
<path d="M1333.25,814.67 Q1339.67,805.34 1353.67,803.00" fill="none" stroke="#354c6b" stroke-width="1.1" />
<path d="M1335.59,820.50 Q1344.34,811.17 1358.34,810.00" fill="none" stroke="#354c6b" stroke-width="1.1" />
<path d="M1339.09,825.17 Q1346.67,817.00 1358.34,814.67" fill="none" stroke="#354c6b" stroke-width="1.1" />
<line x1="1330.34" y1="802.42" x2="1332.67" y2="807.67" stroke="#354c6b" stroke-width="0.8" />
<path d="M1300.59,823.07 Q1317.50,825.75 1337.92,832.17" fill="none" stroke="#eefaff" stroke-width="0.9" />
<path d="M1369.42,823.07 Q1352.50,825.75 1335.00,832.17" fill="none" stroke="#eefaff" stroke-width="0.9" />
<path d="M1302.34,826.34 Q1316.34,826.92 1330.34,830.42" fill="none" stroke="#eefaff" stroke-width="0.9" />
<path d="M1367.67,826.34 Q1356.00,827.27 1345.50,830.07" fill="none" stroke="#eefaff" stroke-width="0.9" />
<defs><linearGradient id="swg" x1="0" y1="0" x2="1" y2="0"><stop offset="0" stop-color="#d0d0d0"/><stop offset="0.12" stop-color="#ffffff"/><stop offset="0.88" stop-color="#ffffff"/><stop offset="1" stop-color="#c4c4c4"/></linearGradient><linearGradient id="swv" x1="0" y1="0" x2="0" y2="1"><stop offset="0" stop-color="#d8d8d8" stop-opacity="0.9"/><stop offset="0.035" stop-color="#ffffff" stop-opacity="0"/><stop offset="0.965" stop-color="#ffffff" stop-opacity="0"/><stop offset="1" stop-color="#bdbdbd" stop-opacity="0.9"/></linearGradient></defs>
<rect x="475.10" y="893.00" width="82.20" height="182.50" fill="#eefaff" />
<rect x="477.50" y="895.30" width="77.40" height="177.50" fill="url(#swg)" rx="9" />
<rect x="477.50" y="895.30" width="77.40" height="177.50" fill="url(#swv)" rx="9" />
<rect x="497.30" y="940.00" width="37.80" height="86.60" fill="#000000" />
<text x="513.10" y="1121.20" font-family="'Liberation Sans', sans-serif" font-size="27.7" fill="#eefaff" text-anchor="middle" font-weight="normal" >SW9</text>
<rect x="585.78" y="893.00" width="82.20" height="182.50" fill="#eefaff" />
<rect x="588.18" y="895.30" width="77.40" height="177.50" fill="url(#swg)" rx="9" />
<rect x="588.18" y="895.30" width="77.40" height="177.50" fill="url(#swv)" rx="9" />
<rect x="607.98" y="940.00" width="37.80" height="86.60" fill="#000000" />
<text x="623.78" y="1121.20" font-family="'Liberation Sans', sans-serif" font-size="27.7" fill="#eefaff" text-anchor="middle" font-weight="normal" >SW8</text>
<rect x="696.46" y="893.00" width="82.20" height="182.50" fill="#eefaff" />
<rect x="698.86" y="895.30" width="77.40" height="177.50" fill="url(#swg)" rx="9" />
<rect x="698.86" y="895.30" width="77.40" height="177.50" fill="url(#swv)" rx="9" />
<rect x="718.66" y="940.00" width="37.80" height="86.60" fill="#000000" />
<text x="734.46" y="1121.20" font-family="'Liberation Sans', sans-serif" font-size="27.7" fill="#eefaff" text-anchor="middle" font-weight="normal" >SW7</text>
<rect x="807.14" y="893.00" width="82.20" height="182.50" fill="#eefaff" />
<rect x="809.54" y="895.30" width="77.40" height="177.50" fill="url(#swg)" rx="9" />
<rect x="809.54" y="895.30" width="77.40" height="177.50" fill="url(#swv)" rx="9" />
<rect x="829.34" y="940.00" width="37.80" height="86.60" fill="#000000" />
<text x="845.14" y="1121.20" font-family="'Liberation Sans', sans-serif" font-size="27.7" fill="#eefaff" text-anchor="middle" font-weight="normal" >SW6</text>
<rect x="917.82" y="893.00" width="82.20" height="182.50" fill="#eefaff" />
<rect x="920.22" y="895.30" width="77.40" height="177.50" fill="url(#swg)" rx="9" />
<rect x="920.22" y="895.30" width="77.40" height="177.50" fill="url(#swv)" rx="9" />
<rect x="940.02" y="940.00" width="37.80" height="86.60" fill="#000000" />
<text x="955.82" y="1121.20" font-family="'Liberation Sans', sans-serif" font-size="27.7" fill="#eefaff" text-anchor="middle" font-weight="normal" >SW5</text>
<rect x="1028.50" y="893.00" width="82.20" height="182.50" fill="#eefaff" />
<rect x="1030.90" y="895.30" width="77.40" height="177.50" fill="url(#swg)" rx="9" />
<rect x="1030.90" y="895.30" width="77.40" height="177.50" fill="url(#swv)" rx="9" />
<rect x="1050.70" y="940.00" width="37.80" height="86.60" fill="#000000" />
<text x="1066.50" y="1121.20" font-family="'Liberation Sans', sans-serif" font-size="27.7" fill="#eefaff" text-anchor="middle" font-weight="normal" >SW4</text>
<rect x="1139.18" y="893.00" width="82.20" height="182.50" fill="#eefaff" />
<rect x="1141.58" y="895.30" width="77.40" height="177.50" fill="url(#swg)" rx="9" />
<rect x="1141.58" y="895.30" width="77.40" height="177.50" fill="url(#swv)" rx="9" />
<rect x="1161.38" y="940.00" width="37.80" height="86.60" fill="#000000" />
<text x="1177.18" y="1121.20" font-family="'Liberation Sans', sans-serif" font-size="27.7" fill="#eefaff" text-anchor="middle" font-weight="normal" >SW3</text>
<rect x="1249.86" y="893.00" width="82.20" height="182.50" fill="#eefaff" />
<rect x="1252.26" y="895.30" width="77.40" height="177.50" fill="url(#swg)" rx="9" />
<rect x="1252.26" y="895.30" width="77.40" height="177.50" fill="url(#swv)" rx="9" />
<rect x="1272.06" y="940.00" width="37.80" height="86.60" fill="#000000" />
<text x="1287.86" y="1121.20" font-family="'Liberation Sans', sans-serif" font-size="27.7" fill="#eefaff" text-anchor="middle" font-weight="normal" >SW2</text>
<rect x="1360.54" y="893.00" width="82.20" height="182.50" fill="#eefaff" />
<rect x="1362.94" y="895.30" width="77.40" height="177.50" fill="url(#swg)" rx="9" />
<rect x="1362.94" y="895.30" width="77.40" height="177.50" fill="url(#swv)" rx="9" />
<rect x="1382.74" y="940.00" width="37.80" height="86.60" fill="#000000" />
<text x="1398.54" y="1121.20" font-family="'Liberation Sans', sans-serif" font-size="27.7" fill="#eefaff" text-anchor="middle" font-weight="normal" >SW1</text>
<rect x="1471.22" y="893.00" width="82.20" height="182.50" fill="#eefaff" />
<rect x="1473.62" y="895.30" width="77.40" height="177.50" fill="url(#swg)" rx="9" />
<rect x="1473.62" y="895.30" width="77.40" height="177.50" fill="url(#swv)" rx="9" />
<rect x="1493.42" y="940.00" width="37.80" height="86.60" fill="#000000" />
<text x="1509.22" y="1121.20" font-family="'Liberation Sans', sans-serif" font-size="27.7" fill="#eefaff" text-anchor="middle" font-weight="normal" >SW0</text>
<rect x="1602.10" y="926.60" width="25.20" height="57.00" fill="none" stroke="#eefaff" stroke-width="5.0" rx="1.2" />
<rect x="1604.80" y="929.30" width="19.80" height="51.60" fill="none" stroke="#cfe0ea" stroke-width="0.5" />
<rect x="1605.40" y="929.90" width="18.60" height="13.20" fill="#e2c250" />
<rect x="1605.40" y="967.10" width="18.60" height="13.20" fill="#e2c250" />
<rect x="1606.80" y="938.50" width="15.80" height="33.20" fill="#e2e4e6" />
<rect x="1606.80" y="943.10" width="15.80" height="24.00" fill="#3f3f3f" />
<text x="1616.20" y="955.10" font-family="'Liberation Sans', sans-serif" font-size="3.6" fill="#d8d8d8" text-anchor="middle" font-weight="normal" transform="rotate(-90 1616.20 955.10)">0603</text>
<text x="1611.60" y="914.60" font-family="'Liberation Sans', sans-serif" font-size="27.3" fill="#eefaff" text-anchor="middle" font-weight="normal" >R20</text>
<defs>
<linearGradient id="dbg" x1="0" y1="0" x2="1" y2="0">
<stop offset="0" stop-color="#0b6f97"/><stop offset="0.05" stop-color="#075a9b"/><stop offset="0.2" stop-color="#094f95"/>
<stop offset="0.5" stop-color="#0a4688"/><stop offset="0.8" stop-color="#094f95"/><stop offset="0.94" stop-color="#075a9b"/><stop offset="1" stop-color="#0d7d9c"/>
</linearGradient>
<linearGradient id="dbv" x1="0" y1="0" x2="0" y2="1">
<stop offset="0" stop-color="#0a86a0" stop-opacity="0.55"/><stop offset="0.04" stop-color="#0a86a0" stop-opacity="0"/>
<stop offset="0.96" stop-color="#0a86a0" stop-opacity="0"/><stop offset="1" stop-color="#0a86a0" stop-opacity="0.6"/>
</linearGradient>
<linearGradient id="usbg" x1="0" y1="0" x2="0" y2="1"><stop offset="0" stop-color="#d6d6d4"/><stop offset="0.6" stop-color="#c9c9c7"/><stop offset="1" stop-color="#b4b4b2"/></linearGradient>
<linearGradient id="btng" x1="0" y1="0" x2="1" y2="0"><stop offset="0" stop-color="#b9b5ad"/><stop offset="0.5" stop-color="#a8a49c"/><stop offset="1" stop-color="#9a968e"/></linearGradient>
<radialGradient id="btnc" cx="0.45" cy="0.4" r="0.6"><stop offset="0" stop-color="#5a5d64"/><stop offset="1" stop-color="#3c3f46"/></radialGradient>
<filter id="pblur" x="-10%" y="-10%" width="120%" height="120%"><feGaussianBlur stdDeviation="5"/></filter>
<filter id="soft" x="-2%" y="-2%" width="104%" height="104%"><feGaussianBlur stdDeviation="0.55"/></filter>
</defs>
<g filter="url(#soft)">
<rect x="50.00" y="26.50" width="56.50" height="8.00" fill="#f2f6fa" rx="1.5" />
<rect x="54.00" y="29.50" width="48.50" height="4.00" fill="#2a2a2a" rx="2" />
<polygon points="42.80,32.40 428.20,29.00 428.20,1121.20 42.80,1123.20" fill="#e9ead8" />
<polygon points="45.30,35.60 424.40,32.40 424.40,1118.60 45.30,1120.40" fill="url(#dbg)" />
<polygon points="45.30,35.60 424.40,32.40 424.40,1118.60 45.30,1120.40" fill="url(#dbv)" />
<path d="M122,142 H350 V210 H358 V560 H348 V768 H122 V560 H112 V300 H122 Z" fill="#0a3f7c" opacity="0.6" filter="url(#pblur)"/>
<path d="M138,140 H330 V228 H138 Z" fill="#0a3a74" opacity="0.5" filter="url(#pblur)"/>
<rect x="104.00" y="840.00" width="260.00" height="270.00" fill="#0a4686" opacity="0.5" filter="url(#pblur)"/>
<path d="M138.6,34 V135.6 H328.6 V34" fill="none" stroke="#d6e6f2" stroke-width="2.2" />
<rect x="303.00" y="42.60" width="15.20" height="34.00" fill="#8f8d84" rx="3" />
<rect x="306.50" y="47.00" width="8.00" height="25.00" fill="#b3b0a4" rx="2" />
<rect x="141.00" y="46.00" width="8.00" height="32.00" fill="#8f8d84" rx="2" />
<circle cx="181.40" cy="121.00" r="9.20" fill="#c4ccd0" />
<circle cx="181.40" cy="121.00" r="5.50" fill="#aab4ba" />
<circle cx="282.30" cy="121.00" r="9.20" fill="#c4ccd0" />
<circle cx="282.30" cy="121.00" r="5.50" fill="#aab4ba" />
<rect x="201.80" y="116.00" width="6.40" height="15.00" fill="#d3ccbc" />
<rect x="201.80" y="126.00" width="6.40" height="5.00" fill="#efe9dc" />
<rect x="215.10" y="116.00" width="6.40" height="15.00" fill="#d3ccbc" />
<rect x="215.10" y="126.00" width="6.40" height="5.00" fill="#efe9dc" />
<rect x="228.90" y="116.00" width="6.40" height="15.00" fill="#d3ccbc" />
<rect x="228.90" y="126.00" width="6.40" height="5.00" fill="#efe9dc" />
<rect x="242.10" y="116.00" width="6.40" height="15.00" fill="#d3ccbc" />
<rect x="242.10" y="126.00" width="6.40" height="5.00" fill="#efe9dc" />
<rect x="255.80" y="116.00" width="6.40" height="15.00" fill="#d3ccbc" />
<rect x="255.80" y="126.00" width="6.40" height="5.00" fill="#efe9dc" />
<rect x="147.50" y="11.90" width="156.10" height="105.30" fill="url(#usbg)" rx="1.5" />
<rect x="147.50" y="11.90" width="156.10" height="2.00" fill="#e6e6e4" />
<rect x="147.50" y="110.00" width="156.10" height="7.20" fill="#b9b8b4" />
<rect x="163.20" y="26.30" width="23.80" height="15.50" fill="#8e8e8a" rx="6.5" />
<rect x="168.20" y="40.50" width="13.20" height="24.70" fill="#143f47" rx="1.5" />
<rect x="168.20" y="40.50" width="13.20" height="4.00" fill="#0f5a4e" />
<rect x="261.00" y="26.80" width="23.20" height="15.50" fill="#8e8e8a" rx="6.5" />
<rect x="266.00" y="41.00" width="13.70" height="21.70" fill="#8b8b87" rx="1.5" />
<rect x="266.00" y="41.50" width="13.70" height="4.50" fill="#1e4a3c" />
<path d="M179.5,104.5 Q180,101.8 184,101.8 H196.4 V95.9 H209 V113.4 H196.4 Q194,110.5 190,110.3 H184 Q180,110 179.5,104.5 Z" fill="#343434" />
<path d="M267.2,104 Q266.7,100.2 262.7,100.2 H248.5 V95.9 H237.8 V113.4 H248.5 Q250,109.3 254,109 H262.7 Q266.7,108.8 267.2,104 Z" fill="#343434" />
<rect x="60.20" y="56.40" width="32.00" height="30.20" fill="#d7a43a" />
<circle cx="76.60" cy="72.50" r="8.60" fill="#f1eff2" />
<rect x="375.30" y="53.80" width="32.00" height="30.20" fill="#d7a43a" />
<circle cx="391.40" cy="69.50" r="9.20" fill="#f4f4f2" />
<path d="M385.5,68 l4,-4 l5,1 l3,3 l-2,4 l1,4 l-5,2 l-4,-2 l1,-4 z" fill="#1c1c1c" />
<circle cx="76.60" cy="125.45" r="15.30" fill="#d7a43a" />
<circle cx="76.60" cy="125.45" r="10.00" fill="#efeff3" />
<circle cx="391.20" cy="122.80" r="15.30" fill="#d7a43a" />
<circle cx="391.20" cy="122.80" r="10.00" fill="#f4f4f2" />
<path d="M384.5,121.30000000000001 l4,-4 l5,1 l3,3 l-2,4 l1,4 l-5,2 l-4,-2 l1,-4 z" fill="#1c1c1c" />
<path d="M388.5,121.80000000000001 l3,-1.5 l2,2.5 l-3,2 z" fill="#f4f4f2" />
<circle cx="76.60" cy="178.50" r="15.30" fill="#d7a43a" />
<circle cx="76.60" cy="178.50" r="10.00" fill="#efeff3" />
<circle cx="391.20" cy="175.90" r="15.30" fill="#d7a43a" />
<circle cx="391.20" cy="175.90" r="10.00" fill="#f4f4f2" />
<path d="M384.5,174.4 l4,-4 l5,1 l3,3 l-2,4 l1,4 l-5,2 l-4,-2 l1,-4 z" fill="#1c1c1c" />
<path d="M388.5,174.9 l3,-1.5 l2,2.5 l-3,2 z" fill="#f4f4f2" />
<circle cx="76.60" cy="231.55" r="15.30" fill="#d7a43a" />
<circle cx="76.60" cy="231.55" r="10.00" fill="#efeff3" />
<circle cx="391.20" cy="229.00" r="15.30" fill="#d7a43a" />
<circle cx="391.20" cy="229.00" r="10.00" fill="#f4f4f2" />
<path d="M384.5,227.5 l4,-4 l5,1 l3,3 l-2,4 l1,4 l-5,2 l-4,-2 l1,-4 z" fill="#1c1c1c" />
<path d="M388.5,228.0 l3,-1.5 l2,2.5 l-3,2 z" fill="#f4f4f2" />
<circle cx="76.60" cy="284.60" r="15.30" fill="#d7a43a" />
<circle cx="76.60" cy="284.60" r="10.00" fill="#efeff3" />
<circle cx="391.20" cy="282.10" r="15.30" fill="#d7a43a" />
<circle cx="391.20" cy="282.10" r="10.00" fill="#f4f4f2" />
<path d="M384.5,280.6 l4,-4 l5,1 l3,3 l-2,4 l1,4 l-5,2 l-4,-2 l1,-4 z" fill="#1c1c1c" />
<path d="M388.5,281.1 l3,-1.5 l2,2.5 l-3,2 z" fill="#f4f4f2" />
<circle cx="76.60" cy="337.65" r="15.30" fill="#d7a43a" />
<circle cx="76.60" cy="337.65" r="10.00" fill="#efeff3" />
<circle cx="391.20" cy="335.20" r="15.30" fill="#d7a43a" />
<circle cx="391.20" cy="335.20" r="10.00" fill="#f4f4f2" />
<path d="M384.5,333.7 l4,-4 l5,1 l3,3 l-2,4 l1,4 l-5,2 l-4,-2 l1,-4 z" fill="#1c1c1c" />
<path d="M388.5,334.2 l3,-1.5 l2,2.5 l-3,2 z" fill="#f4f4f2" />
<circle cx="76.60" cy="390.70" r="15.30" fill="#d7a43a" />
<circle cx="76.60" cy="390.70" r="10.00" fill="#efeff3" />
<circle cx="391.20" cy="388.30" r="15.30" fill="#d7a43a" />
<circle cx="391.20" cy="388.30" r="10.00" fill="#f4f4f2" />
<path d="M384.5,386.8 l4,-4 l5,1 l3,3 l-2,4 l1,4 l-5,2 l-4,-2 l1,-4 z" fill="#1c1c1c" />
<path d="M388.5,387.3 l3,-1.5 l2,2.5 l-3,2 z" fill="#f4f4f2" />
<circle cx="76.60" cy="443.75" r="15.30" fill="#d7a43a" />
<circle cx="76.60" cy="443.75" r="10.00" fill="#8a9aa0" />
<circle cx="391.20" cy="441.40" r="15.30" fill="#d7a43a" />
<circle cx="391.20" cy="441.40" r="10.00" fill="#f4f4f2" />
<path d="M384.5,439.9 l4,-4 l5,1 l3,3 l-2,4 l1,4 l-5,2 l-4,-2 l1,-4 z" fill="#1c1c1c" />
<path d="M388.5,440.4 l3,-1.5 l2,2.5 l-3,2 z" fill="#f4f4f2" />
<circle cx="76.60" cy="496.80" r="15.30" fill="#d7a43a" />
<circle cx="76.60" cy="496.80" r="10.00" fill="#203848" />
<circle cx="391.20" cy="494.50" r="15.30" fill="#d7a43a" />
<circle cx="391.20" cy="494.50" r="10.00" fill="#f4f4f2" />
<path d="M384.5,493.0 l4,-4 l5,1 l3,3 l-2,4 l1,4 l-5,2 l-4,-2 l1,-4 z" fill="#1c1c1c" />
<path d="M388.5,493.5 l3,-1.5 l2,2.5 l-3,2 z" fill="#f4f4f2" />
<circle cx="76.60" cy="549.85" r="15.30" fill="#d7a43a" />
<circle cx="76.60" cy="549.85" r="10.00" fill="#16202c" />
<circle cx="391.20" cy="547.60" r="15.30" fill="#d7a43a" />
<circle cx="391.20" cy="547.60" r="10.00" fill="#f4f4f2" />
<path d="M384.5,546.1 l4,-4 l5,1 l3,3 l-2,4 l1,4 l-5,2 l-4,-2 l1,-4 z" fill="#1c1c1c" />
<path d="M388.5,546.6 l3,-1.5 l2,2.5 l-3,2 z" fill="#f4f4f2" />
<circle cx="76.60" cy="602.90" r="15.30" fill="#d7a43a" />
<circle cx="76.60" cy="602.90" r="10.00" fill="#1c3a3c" />
<circle cx="391.20" cy="600.70" r="15.30" fill="#d7a43a" />
<circle cx="391.20" cy="600.70" r="10.00" fill="#f4f4f2" />
<path d="M384.5,599.2 l4,-4 l5,1 l3,3 l-2,4 l1,4 l-5,2 l-4,-2 l1,-4 z" fill="#1c1c1c" />
<path d="M388.5,599.7 l3,-1.5 l2,2.5 l-3,2 z" fill="#f4f4f2" />
<circle cx="76.60" cy="655.95" r="15.30" fill="#d7a43a" />
<circle cx="76.60" cy="655.95" r="10.00" fill="#a8aeb4" />
<circle cx="391.20" cy="653.80" r="15.30" fill="#d7a43a" />
<circle cx="391.20" cy="653.80" r="10.00" fill="#f4f4f2" />
<path d="M384.5,652.3000000000001 l4,-4 l5,1 l3,3 l-2,4 l1,4 l-5,2 l-4,-2 l1,-4 z" fill="#1c1c1c" />
<path d="M388.5,652.8000000000001 l3,-1.5 l2,2.5 l-3,2 z" fill="#f4f4f2" />
<circle cx="76.60" cy="709.00" r="15.30" fill="#d7a43a" />
<circle cx="76.60" cy="709.00" r="10.00" fill="#efeff3" />
<circle cx="391.20" cy="706.90" r="15.30" fill="#d7a43a" />
<circle cx="391.20" cy="706.90" r="10.00" fill="#f4f4f2" />
<path d="M384.5,705.4000000000001 l4,-4 l5,1 l3,3 l-2,4 l1,4 l-5,2 l-4,-2 l1,-4 z" fill="#1c1c1c" />
<path d="M388.5,705.9000000000001 l3,-1.5 l2,2.5 l-3,2 z" fill="#f4f4f2" />
<circle cx="76.60" cy="762.05" r="15.30" fill="#d7a43a" />
<circle cx="76.60" cy="762.05" r="10.00" fill="#efeff3" />
<circle cx="391.20" cy="760.00" r="15.30" fill="#d7a43a" />
<circle cx="391.20" cy="760.00" r="10.00" fill="#f4f4f2" />
<path d="M384.5,758.5000000000001 l4,-4 l5,1 l3,3 l-2,4 l1,4 l-5,2 l-4,-2 l1,-4 z" fill="#1c1c1c" />
<path d="M388.5,759.0000000000001 l3,-1.5 l2,2.5 l-3,2 z" fill="#f4f4f2" />
<circle cx="76.60" cy="815.10" r="15.30" fill="#d7a43a" />
<circle cx="76.60" cy="815.10" r="10.00" fill="#efeff3" />
<circle cx="391.20" cy="813.10" r="15.30" fill="#d7a43a" />
<circle cx="391.20" cy="813.10" r="10.00" fill="#f4f4f2" />
<path d="M384.5,811.6 l4,-4 l5,1 l3,3 l-2,4 l1,4 l-5,2 l-4,-2 l1,-4 z" fill="#1c1c1c" />
<path d="M388.5,812.1 l3,-1.5 l2,2.5 l-3,2 z" fill="#f4f4f2" />
<circle cx="76.60" cy="868.15" r="15.30" fill="#d7a43a" />
<circle cx="76.60" cy="868.15" r="10.00" fill="#efeff3" />
<circle cx="391.20" cy="866.20" r="15.30" fill="#d7a43a" />
<circle cx="391.20" cy="866.20" r="10.00" fill="#f4f4f2" />
<path d="M384.5,864.7 l4,-4 l5,1 l3,3 l-2,4 l1,4 l-5,2 l-4,-2 l1,-4 z" fill="#1c1c1c" />
<path d="M388.5,865.2 l3,-1.5 l2,2.5 l-3,2 z" fill="#f4f4f2" />
<circle cx="76.60" cy="921.20" r="15.30" fill="#d7a43a" />
<circle cx="76.60" cy="921.20" r="10.00" fill="#efeff3" />
<circle cx="391.20" cy="919.30" r="15.30" fill="#d7a43a" />
<circle cx="391.20" cy="919.30" r="10.00" fill="#f4f4f2" />
<path d="M384.5,917.8000000000001 l4,-4 l5,1 l3,3 l-2,4 l1,4 l-5,2 l-4,-2 l1,-4 z" fill="#1c1c1c" />
<path d="M388.5,918.3000000000001 l3,-1.5 l2,2.5 l-3,2 z" fill="#f4f4f2" />
<circle cx="76.60" cy="974.25" r="15.30" fill="#d7a43a" />
<circle cx="76.60" cy="974.25" r="10.00" fill="#efeff3" />
<circle cx="391.20" cy="972.40" r="15.30" fill="#d7a43a" />
<circle cx="391.20" cy="972.40" r="10.00" fill="#f4f4f2" />
<path d="M384.5,970.9000000000001 l4,-4 l5,1 l3,3 l-2,4 l1,4 l-5,2 l-4,-2 l1,-4 z" fill="#1c1c1c" />
<path d="M388.5,971.4000000000001 l3,-1.5 l2,2.5 l-3,2 z" fill="#f4f4f2" />
<circle cx="76.60" cy="1027.30" r="15.30" fill="#d7a43a" />
<circle cx="76.60" cy="1027.30" r="10.00" fill="#efeff3" />
<circle cx="391.20" cy="1025.50" r="15.30" fill="#d7a43a" />
<circle cx="391.20" cy="1025.50" r="10.00" fill="#f4f4f2" />
<path d="M384.5,1024.0 l4,-4 l5,1 l3,3 l-2,4 l1,4 l-5,2 l-4,-2 l1,-4 z" fill="#1c1c1c" />
<path d="M388.5,1024.5 l3,-1.5 l2,2.5 l-3,2 z" fill="#f4f4f2" />
<circle cx="76.60" cy="1080.35" r="15.30" fill="#d7a43a" />
<circle cx="76.60" cy="1080.35" r="10.00" fill="#efeff3" />
<circle cx="391.20" cy="1078.60" r="15.30" fill="#d7a43a" />
<circle cx="391.20" cy="1078.60" r="10.00" fill="#f4f4f2" />
<path d="M384.5,1077.1 l4,-4 l5,1 l3,3 l-2,4 l1,4 l-5,2 l-4,-2 l1,-4 z" fill="#1c1c1c" />
<path d="M388.5,1077.6 l3,-1.5 l2,2.5 l-3,2 z" fill="#f4f4f2" />
<text x="98.50" y="71.00" font-family="'Liberation Sans', sans-serif" font-size="21.5" fill="#eef3f8" text-anchor="middle" font-weight="bold" transform="rotate(90 98.50 71.00)"  stroke="#eef3f8" stroke-width="0.5">3.3V</text>
<text x="84.50" y="100.50" font-family="'Liberation Sans', sans-serif" font-size="20.5" fill="#eef3f8" text-anchor="middle" font-weight="bold" transform="rotate(90 84.50 100.50)"  stroke="#eef3f8" stroke-width="0.5">0</text>
<text x="84.50" y="153.50" font-family="'Liberation Sans', sans-serif" font-size="20.5" fill="#eef3f8" text-anchor="middle" font-weight="bold" transform="rotate(90 84.50 153.50)"  stroke="#eef3f8" stroke-width="0.5">1</text>
<text x="84.50" y="206.50" font-family="'Liberation Sans', sans-serif" font-size="20.5" fill="#eef3f8" text-anchor="middle" font-weight="bold" transform="rotate(90 84.50 206.50)"  stroke="#eef3f8" stroke-width="0.5">2</text>
<text x="84.50" y="259.50" font-family="'Liberation Sans', sans-serif" font-size="20.5" fill="#eef3f8" text-anchor="middle" font-weight="bold" transform="rotate(90 84.50 259.50)"  stroke="#eef3f8" stroke-width="0.5">3</text>
<text x="84.50" y="312.50" font-family="'Liberation Sans', sans-serif" font-size="20.5" fill="#eef3f8" text-anchor="middle" font-weight="bold" transform="rotate(90 84.50 312.50)"  stroke="#eef3f8" stroke-width="0.5">4</text>
<text x="84.50" y="365.50" font-family="'Liberation Sans', sans-serif" font-size="20.5" fill="#eef3f8" text-anchor="middle" font-weight="bold" transform="rotate(90 84.50 365.50)"  stroke="#eef3f8" stroke-width="0.5">5</text>
<text x="84.50" y="418.50" font-family="'Liberation Sans', sans-serif" font-size="20.5" fill="#eef3f8" text-anchor="middle" font-weight="bold" transform="rotate(90 84.50 418.50)"  stroke="#eef3f8" stroke-width="0.5">6</text>
<text x="84.50" y="471.50" font-family="'Liberation Sans', sans-serif" font-size="20.5" fill="#eef3f8" text-anchor="middle" font-weight="bold" transform="rotate(90 84.50 471.50)"  stroke="#eef3f8" stroke-width="0.5">7</text>
<text x="84.50" y="524.50" font-family="'Liberation Sans', sans-serif" font-size="20.5" fill="#eef3f8" text-anchor="middle" font-weight="bold" transform="rotate(90 84.50 524.50)"  stroke="#eef3f8" stroke-width="0.5">8</text>
<text x="84.50" y="577.50" font-family="'Liberation Sans', sans-serif" font-size="20.5" fill="#eef3f8" text-anchor="middle" font-weight="bold" transform="rotate(90 84.50 577.50)"  stroke="#eef3f8" stroke-width="0.5">9</text>
<text x="84.50" y="630.50" font-family="'Liberation Sans', sans-serif" font-size="20.5" fill="#eef3f8" text-anchor="middle" font-weight="bold" transform="rotate(90 84.50 630.50)"  stroke="#eef3f8" stroke-width="0.5">10</text>
<text x="84.50" y="683.50" font-family="'Liberation Sans', sans-serif" font-size="20.5" fill="#eef3f8" text-anchor="middle" font-weight="bold" transform="rotate(90 84.50 683.50)"  stroke="#eef3f8" stroke-width="0.5">11</text>
<text x="84.50" y="736.50" font-family="'Liberation Sans', sans-serif" font-size="20.5" fill="#eef3f8" text-anchor="middle" font-weight="bold" transform="rotate(90 84.50 736.50)"  stroke="#eef3f8" stroke-width="0.5">12</text>
<text x="84.50" y="789.50" font-family="'Liberation Sans', sans-serif" font-size="20.5" fill="#eef3f8" text-anchor="middle" font-weight="bold" transform="rotate(90 84.50 789.50)"  stroke="#eef3f8" stroke-width="0.5">13</text>
<text x="84.50" y="842.50" font-family="'Liberation Sans', sans-serif" font-size="20.5" fill="#eef3f8" text-anchor="middle" font-weight="bold" transform="rotate(90 84.50 842.50)"  stroke="#eef3f8" stroke-width="0.5">14</text>
<text x="84.50" y="895.50" font-family="'Liberation Sans', sans-serif" font-size="20.5" fill="#eef3f8" text-anchor="middle" font-weight="bold" transform="rotate(90 84.50 895.50)"  stroke="#eef3f8" stroke-width="0.5">15</text>
<text x="84.50" y="948.50" font-family="'Liberation Sans', sans-serif" font-size="20.5" fill="#eef3f8" text-anchor="middle" font-weight="bold" transform="rotate(90 84.50 948.50)"  stroke="#eef3f8" stroke-width="0.5">16</text>
<text x="84.50" y="1001.50" font-family="'Liberation Sans', sans-serif" font-size="20.5" fill="#eef3f8" text-anchor="middle" font-weight="bold" transform="rotate(90 84.50 1001.50)"  stroke="#eef3f8" stroke-width="0.5">17</text>
<text x="369.50" y="100.00" font-family="'Liberation Sans', sans-serif" font-size="20.5" fill="#eef3f8" text-anchor="middle" font-weight="bold" transform="rotate(90 369.50 100.00)"  stroke="#eef3f8" stroke-width="0.5">35</text>
<text x="369.50" y="150.50" font-family="'Liberation Sans', sans-serif" font-size="20.5" fill="#eef3f8" text-anchor="middle" font-weight="bold" transform="rotate(90 369.50 150.50)"  stroke="#eef3f8" stroke-width="0.5">34</text>
<text x="369.50" y="203.00" font-family="'Liberation Sans', sans-serif" font-size="20.5" fill="#eef3f8" text-anchor="middle" font-weight="bold" transform="rotate(90 369.50 203.00)"  stroke="#eef3f8" stroke-width="0.5">33</text>
<text x="369.50" y="256.40" font-family="'Liberation Sans', sans-serif" font-size="20.5" fill="#eef3f8" text-anchor="middle" font-weight="bold" transform="rotate(90 369.50 256.40)"  stroke="#eef3f8" stroke-width="0.5">32</text>
<text x="369.50" y="309.00" font-family="'Liberation Sans', sans-serif" font-size="20.5" fill="#eef3f8" text-anchor="middle" font-weight="bold" transform="rotate(90 369.50 309.00)"  stroke="#eef3f8" stroke-width="0.5">31</text>
<text x="369.50" y="362.90" font-family="'Liberation Sans', sans-serif" font-size="20.5" fill="#eef3f8" text-anchor="middle" font-weight="bold" transform="rotate(90 369.50 362.90)"  stroke="#eef3f8" stroke-width="0.5">30</text>
<text x="369.50" y="416.80" font-family="'Liberation Sans', sans-serif" font-size="20.5" fill="#eef3f8" text-anchor="middle" font-weight="bold" transform="rotate(90 369.50 416.80)"  stroke="#eef3f8" stroke-width="0.5">29</text>
<text x="369.50" y="470.70" font-family="'Liberation Sans', sans-serif" font-size="20.5" fill="#eef3f8" text-anchor="middle" font-weight="bold" transform="rotate(90 369.50 470.70)"  stroke="#eef3f8" stroke-width="0.5">28</text>
<text x="369.50" y="521.00" font-family="'Liberation Sans', sans-serif" font-size="20.5" fill="#eef3f8" text-anchor="middle" font-weight="bold" transform="rotate(90 369.50 521.00)"  stroke="#eef3f8" stroke-width="0.5">27</text>
<text x="369.50" y="576.50" font-family="'Liberation Sans', sans-serif" font-size="20.5" fill="#eef3f8" text-anchor="middle" font-weight="bold" transform="rotate(90 369.50 576.50)"  stroke="#eef3f8" stroke-width="0.5">26</text>
<text x="369.50" y="630.40" font-family="'Liberation Sans', sans-serif" font-size="20.5" fill="#eef3f8" text-anchor="middle" font-weight="bold" transform="rotate(90 369.50 630.40)"  stroke="#eef3f8" stroke-width="0.5">25</text>
<text x="369.50" y="683.00" font-family="'Liberation Sans', sans-serif" font-size="20.5" fill="#eef3f8" text-anchor="middle" font-weight="bold" transform="rotate(90 369.50 683.00)"  stroke="#eef3f8" stroke-width="0.5">24</text>
<text x="369.50" y="736.90" font-family="'Liberation Sans', sans-serif" font-size="20.5" fill="#eef3f8" text-anchor="middle" font-weight="bold" transform="rotate(90 369.50 736.90)"  stroke="#eef3f8" stroke-width="0.5">23</text>
<text x="369.50" y="790.00" font-family="'Liberation Sans', sans-serif" font-size="20.5" fill="#eef3f8" text-anchor="middle" font-weight="bold" transform="rotate(90 369.50 790.00)"  stroke="#eef3f8" stroke-width="0.5">22</text>
<text x="369.50" y="842.70" font-family="'Liberation Sans', sans-serif" font-size="20.5" fill="#eef3f8" text-anchor="middle" font-weight="bold" transform="rotate(90 369.50 842.70)"  stroke="#eef3f8" stroke-width="0.5">21</text>
<text x="369.50" y="895.00" font-family="'Liberation Sans', sans-serif" font-size="20.5" fill="#eef3f8" text-anchor="middle" font-weight="bold" transform="rotate(90 369.50 895.00)"  stroke="#eef3f8" stroke-width="0.5">20</text>
<text x="369.50" y="951.00" font-family="'Liberation Sans', sans-serif" font-size="20.5" fill="#eef3f8" text-anchor="middle" font-weight="bold" transform="rotate(90 369.50 951.00)"  stroke="#eef3f8" stroke-width="0.5">19</text>
<text x="369.50" y="1001.00" font-family="'Liberation Sans', sans-serif" font-size="20.5" fill="#eef3f8" text-anchor="middle" font-weight="bold" transform="rotate(90 369.50 1001.00)"  stroke="#eef3f8" stroke-width="0.5">18</text>
<text x="352.00" y="66.00" font-family="'Liberation Sans', sans-serif" font-size="21.5" fill="#eef3f8" text-anchor="middle" font-weight="bold" transform="rotate(90 352.00 66.00)"  stroke="#eef3f8" stroke-width="0.5">VBUS</text>
<text x="331.00" y="79.00" font-family="'Liberation Sans', sans-serif" font-size="19" fill="#eef3f8" text-anchor="middle" font-weight="normal" transform="rotate(90 331.00 79.00)" >J1</text>
<text x="58.50" y="1063.50" font-family="'Liberation Sans', sans-serif" font-size="20.5" fill="#eef3f8" text-anchor="start" font-weight="bold" textLength="42">GND</text>
<text x="368.00" y="1063.50" font-family="'Liberation Sans', sans-serif" font-size="20.5" fill="#eef3f8" text-anchor="start" font-weight="bold" textLength="43">GND</text>
<rect x="173.60" y="157.50" width="57.40" height="29.00" fill="none" stroke="#b8cfe2" stroke-width="1.3" />
<rect x="188.60" y="186.00" width="27.40" height="3.00" fill="#0a3f7c" />
<rect x="176.60" y="160.40" width="51.40" height="22.60" fill="#cfcfcb" />
<rect x="189.60" y="162.50" width="24.40" height="18.40" fill="#168a6c" />
<rect x="177.60" y="163.00" width="9.00" height="17.00" fill="#e6e6e2" />
<rect x="218.00" y="163.00" width="9.00" height="17.00" fill="#e6e6e2" />
<rect x="232.50" y="157.50" width="58.50" height="29.00" fill="none" stroke="#b8cfe2" stroke-width="1.3" />
<rect x="247.50" y="186.00" width="28.50" height="3.00" fill="#0a3f7c" />
<rect x="235.50" y="160.40" width="52.50" height="22.60" fill="#cfcfcb" />
<rect x="248.50" y="162.50" width="25.50" height="18.40" fill="#168a6c" />
<rect x="236.50" y="163.00" width="9.00" height="17.00" fill="#e6e6e2" />
<rect x="278.00" y="163.00" width="9.00" height="17.00" fill="#e6e6e2" />
<rect x="298.00" y="150.50" width="62.00" height="58.00" fill="none" stroke="#b8cfe2" stroke-width="1.3" />
<line x1="298.00" y1="180.00" x2="360.00" y2="180.00" stroke="#b8cfe2" stroke-width="1.3" />
<rect x="303.00" y="155.40" width="50.00" height="20.00" fill="#bdb9b5" />
<rect x="312.00" y="156.40" width="31.00" height="18.00" fill="#ece4e0" />
<rect x="345.50" y="167.40" width="4.00" height="4.00" fill="#35c49a" />
<rect x="303.00" y="184.20" width="50.00" height="20.00" fill="#bdb9b5" />
<rect x="312.00" y="185.20" width="31.00" height="18.00" fill="#ece4e0" />
<rect x="345.50" y="196.20" width="4.00" height="4.00" fill="#35c49a" />
<text x="305.50" y="150.60" font-family="'Liberation Sans', sans-serif" font-size="17.5" fill="#dfe8f2" text-anchor="start" font-weight="normal" textLength="45">LD10</text>
<text x="307.50" y="228.20" font-family="'Liberation Sans', sans-serif" font-size="17.5" fill="#dfe8f2" text-anchor="start" font-weight="normal" textLength="33">LD9</text>
<text x="134.00" y="226.00" font-family="'Liberation Sans', sans-serif" font-size="17.5" fill="#dfe8f2" text-anchor="start" font-weight="normal" textLength="56">DISP1</text>
<rect x="222.00" y="190.00" width="5.00" height="18.00" fill="#26303a" rx="2" />
<rect x="222.50" y="197.00" width="4.00" height="4.00" fill="#c9c9c9" />
<rect x="233.50" y="190.00" width="5.00" height="18.00" fill="#26303a" rx="2" />
<rect x="234.00" y="197.00" width="4.00" height="4.00" fill="#c9c9c9" />
<rect x="115.00" y="232.50" width="237.00" height="301.50" fill="none" stroke="#c4d6e6" stroke-width="1.5" />
<rect x="126.50" y="235.00" width="17.00" height="20.50" fill="#d3a94e" />
<rect x="312.00" y="235.00" width="19.00" height="20.50" fill="#d3a94e" />
<rect x="126.50" y="256.50" width="17.00" height="7.00" fill="#128060" />
<rect x="312.00" y="256.50" width="19.00" height="7.00" fill="#128060" />
<rect x="118.50" y="236.00" width="12.00" height="19.00" fill="#bfc1c1" rx="3" />
<rect x="328.00" y="236.00" width="19.00" height="18.00" fill="#e6e9ea" rx="2" />
<rect x="333.00" y="241.00" width="4.00" height="3.00" fill="#28406a" />
<rect x="340.00" y="246.00" width="3.00" height="3.00" fill="#28406a" />
<rect x="126.50" y="265.00" width="17.00" height="20.50" fill="#d3a94e" />
<rect x="312.00" y="265.00" width="19.00" height="20.50" fill="#d3a94e" />
<rect x="126.50" y="286.50" width="17.00" height="7.00" fill="#128060" />
<rect x="312.00" y="286.50" width="19.00" height="7.00" fill="#128060" />
<rect x="118.50" y="266.00" width="12.00" height="19.00" fill="#bfc1c1" rx="3" />
<rect x="328.00" y="266.00" width="19.00" height="18.00" fill="#e6e9ea" rx="2" />
<rect x="333.00" y="271.00" width="4.00" height="3.00" fill="#28406a" />
<rect x="340.00" y="276.00" width="3.00" height="3.00" fill="#28406a" />
<rect x="126.50" y="295.00" width="17.00" height="20.50" fill="#d3a94e" />
<rect x="312.00" y="295.00" width="19.00" height="20.50" fill="#d3a94e" />
<rect x="126.50" y="316.50" width="17.00" height="7.00" fill="#128060" />
<rect x="312.00" y="316.50" width="19.00" height="7.00" fill="#128060" />
<rect x="118.50" y="296.00" width="12.00" height="19.00" fill="#bfc1c1" rx="3" />
<rect x="328.00" y="296.00" width="19.00" height="18.00" fill="#e6e9ea" rx="2" />
<rect x="333.00" y="301.00" width="4.00" height="3.00" fill="#28406a" />
<rect x="340.00" y="306.00" width="3.00" height="3.00" fill="#28406a" />
<rect x="126.50" y="325.00" width="17.00" height="20.50" fill="#d3a94e" />
<rect x="312.00" y="325.00" width="19.00" height="20.50" fill="#d3a94e" />
<rect x="126.50" y="346.50" width="17.00" height="7.00" fill="#128060" />
<rect x="312.00" y="346.50" width="19.00" height="7.00" fill="#128060" />
<rect x="118.50" y="326.00" width="12.00" height="19.00" fill="#bfc1c1" rx="3" />
<rect x="328.00" y="326.00" width="19.00" height="18.00" fill="#e6e9ea" rx="2" />
<rect x="333.00" y="331.00" width="4.00" height="3.00" fill="#28406a" />
<rect x="340.00" y="336.00" width="3.00" height="3.00" fill="#28406a" />
<rect x="126.50" y="355.00" width="17.00" height="20.50" fill="#d3a94e" />
<rect x="312.00" y="355.00" width="19.00" height="20.50" fill="#d3a94e" />
<rect x="126.50" y="376.50" width="17.00" height="7.00" fill="#128060" />
<rect x="312.00" y="376.50" width="19.00" height="7.00" fill="#128060" />
<rect x="118.50" y="356.00" width="12.00" height="19.00" fill="#bfc1c1" rx="3" />
<rect x="328.00" y="356.00" width="19.00" height="18.00" fill="#e6e9ea" rx="2" />
<rect x="333.00" y="361.00" width="4.00" height="3.00" fill="#28406a" />
<rect x="340.00" y="366.00" width="3.00" height="3.00" fill="#28406a" />
<rect x="126.50" y="385.00" width="17.00" height="20.50" fill="#d3a94e" />
<rect x="312.00" y="385.00" width="19.00" height="20.50" fill="#d3a94e" />
<rect x="126.50" y="406.50" width="17.00" height="7.00" fill="#128060" />
<rect x="312.00" y="406.50" width="19.00" height="7.00" fill="#128060" />
<rect x="118.50" y="386.00" width="12.00" height="19.00" fill="#bfc1c1" rx="3" />
<rect x="328.00" y="386.00" width="19.00" height="18.00" fill="#e6e9ea" rx="2" />
<rect x="333.00" y="391.00" width="4.00" height="3.00" fill="#28406a" />
<rect x="340.00" y="396.00" width="3.00" height="3.00" fill="#28406a" />
<rect x="126.50" y="415.00" width="17.00" height="20.50" fill="#d3a94e" />
<rect x="312.00" y="415.00" width="19.00" height="20.50" fill="#d3a94e" />
<rect x="126.50" y="436.50" width="17.00" height="7.00" fill="#128060" />
<rect x="312.00" y="436.50" width="19.00" height="7.00" fill="#128060" />
<rect x="118.50" y="416.00" width="12.00" height="19.00" fill="#bfc1c1" rx="3" />
<rect x="328.00" y="416.00" width="19.00" height="18.00" fill="#e6e9ea" rx="2" />
<rect x="333.00" y="421.00" width="4.00" height="3.00" fill="#28406a" />
<rect x="340.00" y="426.00" width="3.00" height="3.00" fill="#28406a" />
<rect x="126.50" y="445.00" width="17.00" height="20.50" fill="#d3a94e" />
<rect x="312.00" y="445.00" width="19.00" height="20.50" fill="#d3a94e" />
<rect x="126.50" y="466.50" width="17.00" height="7.00" fill="#128060" />
<rect x="312.00" y="466.50" width="19.00" height="7.00" fill="#128060" />
<rect x="118.50" y="446.00" width="12.00" height="19.00" fill="#bfc1c1" rx="3" />
<rect x="328.00" y="446.00" width="19.00" height="18.00" fill="#e6e9ea" rx="2" />
<rect x="333.00" y="451.00" width="4.00" height="3.00" fill="#28406a" />
<rect x="340.00" y="456.00" width="3.00" height="3.00" fill="#28406a" />
<rect x="126.50" y="475.00" width="17.00" height="20.50" fill="#d3a94e" />
<rect x="312.00" y="475.00" width="19.00" height="20.50" fill="#d3a94e" />
<rect x="126.50" y="496.50" width="17.00" height="7.00" fill="#128060" />
<rect x="312.00" y="496.50" width="19.00" height="7.00" fill="#128060" />
<rect x="118.50" y="476.00" width="12.00" height="19.00" fill="#bfc1c1" rx="3" />
<rect x="328.00" y="476.00" width="19.00" height="18.00" fill="#e6e9ea" rx="2" />
<rect x="333.00" y="481.00" width="4.00" height="3.00" fill="#28406a" />
<rect x="340.00" y="486.00" width="3.00" height="3.00" fill="#28406a" />
<rect x="126.50" y="505.00" width="17.00" height="20.50" fill="#d3a94e" />
<rect x="312.00" y="505.00" width="19.00" height="20.50" fill="#d3a94e" />
<rect x="126.50" y="526.50" width="17.00" height="7.00" fill="#128060" />
<rect x="312.00" y="526.50" width="19.00" height="7.00" fill="#128060" />
<rect x="118.50" y="506.00" width="12.00" height="19.00" fill="#bfc1c1" rx="3" />
<rect x="328.00" y="506.00" width="19.00" height="18.00" fill="#e6e9ea" rx="2" />
<rect x="333.00" y="511.00" width="4.00" height="3.00" fill="#28406a" />
<rect x="340.00" y="516.00" width="3.00" height="3.00" fill="#28406a" />
<rect x="143.40" y="227.60" width="161.80" height="146.40" fill="#8f9898" />
<rect x="305.20" y="227.60" width="7.00" height="146.40" fill="#e6e8e6" />
<polygon points="177.67,267.14 187.01,279.89 187.01,304.79 178.45,314.12 171.45,308.67 172.23,271.34" fill="#d3d3c7" stroke="#d3d3c7" stroke-width="1.0" stroke-linejoin="round"/>
<polygon points="224.34,278.81 232.90,288.45 232.90,311.79 225.12,320.34 217.34,311.79 217.34,285.34" fill="#d3d3c7" stroke="#d3d3c7" stroke-width="1.0" stroke-linejoin="round"/>
<polygon points="271.79,284.09 278.01,290.01 278.01,327.34 272.57,332.32 263.24,319.56 263.24,293.12" fill="#d3d3c7" stroke="#d3d3c7" stroke-width="1.0" stroke-linejoin="round"/>
<polygon points="183.12,261.69 187.78,257.34 197.12,258.11 211.90,262.31 219.68,270.56 217.34,276.32 209.56,279.12 192.45,274.76 184.67,268.23" fill="#d3d3c7" stroke="#d3d3c7" stroke-width="1.0" stroke-linejoin="round"/>
<polygon points="229.79,272.12 234.46,267.45 245.35,267.92 259.35,272.12 267.13,279.89 265.57,285.34 256.24,286.89 239.12,282.23 231.66,276.78" fill="#d3d3c7" stroke="#d3d3c7" stroke-width="1.0" stroke-linejoin="round"/>
<polygon points="182.34,316.45 187.01,312.10 197.12,312.56 211.12,317.23 218.90,325.01 217.34,330.14 208.01,332.32 190.90,327.34 183.43,321.90" fill="#d3d3c7" stroke="#d3d3c7" stroke-width="1.0" stroke-linejoin="round"/>
<polygon points="229.79,325.79 234.46,321.12 245.35,321.90 258.57,326.57 266.35,334.34 264.79,339.79 256.24,341.66 239.12,336.68 231.34,331.23" fill="#d3d3c7" stroke="#d3d3c7" stroke-width="1.0" stroke-linejoin="round"/>
<circle cx="179.54" cy="350.68" r="11.20" fill="#cfcfc1" />
<rect x="143.40" y="375.20" width="161.80" height="147.40" fill="#8f9898" />
<rect x="305.20" y="375.20" width="7.00" height="147.40" fill="#e6e8e6" />
<polygon points="177.67,418.64 187.01,431.39 187.01,456.29 178.45,465.62 171.45,460.17 172.23,422.84" fill="#d3d3c7" stroke="#d3d3c7" stroke-width="1.0" stroke-linejoin="round"/>
<polygon points="224.34,430.31 232.90,439.95 232.90,463.29 225.12,471.84 217.34,463.29 217.34,436.84" fill="#d3d3c7" stroke="#d3d3c7" stroke-width="1.0" stroke-linejoin="round"/>
<polygon points="271.79,435.59 278.01,441.51 278.01,478.84 272.57,483.82 263.24,471.06 263.24,444.62" fill="#d3d3c7" stroke="#d3d3c7" stroke-width="1.0" stroke-linejoin="round"/>
<polygon points="183.12,413.19 187.78,408.84 197.12,409.61 211.90,413.81 219.68,422.06 217.34,427.82 209.56,430.62 192.45,426.26 184.67,419.73" fill="#d3d3c7" stroke="#d3d3c7" stroke-width="1.0" stroke-linejoin="round"/>
<polygon points="229.79,423.62 234.46,418.95 245.35,419.42 259.35,423.62 267.13,431.39 265.57,436.84 256.24,438.39 239.12,433.73 231.66,428.28" fill="#d3d3c7" stroke="#d3d3c7" stroke-width="1.0" stroke-linejoin="round"/>
<polygon points="182.34,467.95 187.01,463.60 197.12,464.06 211.12,468.73 218.90,476.51 217.34,481.64 208.01,483.82 190.90,478.84 183.43,473.40" fill="#d3d3c7" stroke="#d3d3c7" stroke-width="1.0" stroke-linejoin="round"/>
<polygon points="229.79,477.29 234.46,472.62 245.35,473.40 258.57,478.07 266.35,485.84 264.79,491.29 256.24,493.16 239.12,488.18 231.34,482.73" fill="#d3d3c7" stroke="#d3d3c7" stroke-width="1.0" stroke-linejoin="round"/>
<circle cx="179.54" cy="502.18" r="11.20" fill="#cfcfc1" />
<line x1="142.80" y1="374.60" x2="312.80" y2="374.60" stroke="#6f7675" stroke-width="1.4" />
<rect x="128.00" y="522.60" width="185.00" height="3.50" fill="#cfd8c8" />
<rect x="156.60" y="550.00" width="165.50" height="17.80" fill="#12284a" rx="2" />
<rect x="158.20" y="551.20" width="4.20" height="5.60" fill="#cfc9b5" rx="1.6" />
<rect x="158.20" y="560.80" width="4.20" height="5.60" fill="#cfc9b5" rx="1.6" />
<rect x="165.10" y="551.20" width="4.20" height="5.60" fill="#cfc9b5" rx="1.6" />
<rect x="165.10" y="560.80" width="4.20" height="5.60" fill="#cfc9b5" rx="1.6" />
<rect x="172.00" y="551.20" width="4.20" height="5.60" fill="#cfc9b5" rx="1.6" />
<rect x="172.00" y="560.80" width="4.20" height="5.60" fill="#cfc9b5" rx="1.6" />
<rect x="178.90" y="551.20" width="4.20" height="5.60" fill="#cfc9b5" rx="1.6" />
<rect x="178.90" y="560.80" width="4.20" height="5.60" fill="#cfc9b5" rx="1.6" />
<rect x="185.80" y="551.20" width="4.20" height="5.60" fill="#cfc9b5" rx="1.6" />
<rect x="185.80" y="560.80" width="4.20" height="5.60" fill="#cfc9b5" rx="1.6" />
<rect x="192.70" y="551.20" width="4.20" height="5.60" fill="#cfc9b5" rx="1.6" />
<rect x="192.70" y="560.80" width="4.20" height="5.60" fill="#cfc9b5" rx="1.6" />
<rect x="199.60" y="551.20" width="4.20" height="5.60" fill="#cfc9b5" rx="1.6" />
<rect x="199.60" y="560.80" width="4.20" height="5.60" fill="#cfc9b5" rx="1.6" />
<rect x="206.50" y="551.20" width="4.20" height="5.60" fill="#cfc9b5" rx="1.6" />
<rect x="206.50" y="560.80" width="4.20" height="5.60" fill="#cfc9b5" rx="1.6" />
<rect x="213.40" y="551.20" width="4.20" height="5.60" fill="#cfc9b5" rx="1.6" />
<rect x="213.40" y="560.80" width="4.20" height="5.60" fill="#cfc9b5" rx="1.6" />
<rect x="220.30" y="551.20" width="4.20" height="5.60" fill="#cfc9b5" rx="1.6" />
<rect x="220.30" y="560.80" width="4.20" height="5.60" fill="#cfc9b5" rx="1.6" />
<rect x="227.20" y="551.20" width="4.20" height="5.60" fill="#cfc9b5" rx="1.6" />
<rect x="227.20" y="560.80" width="4.20" height="5.60" fill="#cfc9b5" rx="1.6" />
<rect x="234.10" y="551.20" width="4.20" height="5.60" fill="#cfc9b5" rx="1.6" />
<rect x="234.10" y="560.80" width="4.20" height="5.60" fill="#cfc9b5" rx="1.6" />
<rect x="241.00" y="551.20" width="4.20" height="5.60" fill="#cfc9b5" rx="1.6" />
<rect x="241.00" y="560.80" width="4.20" height="5.60" fill="#cfc9b5" rx="1.6" />
<rect x="247.90" y="551.20" width="4.20" height="5.60" fill="#cfc9b5" rx="1.6" />
<rect x="247.90" y="560.80" width="4.20" height="5.60" fill="#cfc9b5" rx="1.6" />
<rect x="254.80" y="551.20" width="4.20" height="5.60" fill="#cfc9b5" rx="1.6" />
<rect x="254.80" y="560.80" width="4.20" height="5.60" fill="#cfc9b5" rx="1.6" />
<rect x="261.70" y="551.20" width="4.20" height="5.60" fill="#cfc9b5" rx="1.6" />
<rect x="261.70" y="560.80" width="4.20" height="5.60" fill="#cfc9b5" rx="1.6" />
<rect x="268.60" y="551.20" width="4.20" height="5.60" fill="#cfc9b5" rx="1.6" />
<rect x="268.60" y="560.80" width="4.20" height="5.60" fill="#cfc9b5" rx="1.6" />
<rect x="275.50" y="551.20" width="4.20" height="5.60" fill="#cfc9b5" rx="1.6" />
<rect x="275.50" y="560.80" width="4.20" height="5.60" fill="#cfc9b5" rx="1.6" />
<rect x="282.40" y="551.20" width="4.20" height="5.60" fill="#cfc9b5" rx="1.6" />
<rect x="282.40" y="560.80" width="4.20" height="5.60" fill="#cfc9b5" rx="1.6" />
<rect x="289.30" y="551.20" width="4.20" height="5.60" fill="#cfc9b5" rx="1.6" />
<rect x="289.30" y="560.80" width="4.20" height="5.60" fill="#cfc9b5" rx="1.6" />
<rect x="296.20" y="551.20" width="4.20" height="5.60" fill="#cfc9b5" rx="1.6" />
<rect x="296.20" y="560.80" width="4.20" height="5.60" fill="#cfc9b5" rx="1.6" />
<rect x="303.10" y="551.20" width="4.20" height="5.60" fill="#cfc9b5" rx="1.6" />
<rect x="303.10" y="560.80" width="4.20" height="5.60" fill="#cfc9b5" rx="1.6" />
<rect x="310.00" y="551.20" width="4.20" height="5.60" fill="#cfc9b5" rx="1.6" />
<rect x="310.00" y="560.80" width="4.20" height="5.60" fill="#cfc9b5" rx="1.6" />
<rect x="316.90" y="551.20" width="4.20" height="5.60" fill="#cfc9b5" rx="1.6" />
<rect x="316.90" y="560.80" width="4.20" height="5.60" fill="#cfc9b5" rx="1.6" />
<circle cx="332.50" cy="574.00" r="4.00" fill="#e8eef4" />
<rect x="159.80" y="584.00" width="168.40" height="168.00" fill="#2c2c2e" rx="1.5" />
<rect x="159.80" y="584.00" width="168.40" height="168.00" fill="none" stroke="#3e3e42" stroke-width="1.6" rx="1.5" />
<rect x="326.50" y="584.00" width="3.00" height="168.00" fill="#8ea4b8" opacity="0.6"/>
<circle cx="311.50" cy="598.50" r="4.60" fill="#6a6660" />
<text x="240.00" y="598.00" font-family="'Liberation Sans', sans-serif" font-size="13.5" fill="#77736a" text-anchor="middle" font-weight="bold" transform="rotate(180 240 598) scale(-1 1) translate(-480 0)" textLength="98">EA7F0A  3</text>
<text x="173.50" y="665.00" font-family="'Liberation Sans', sans-serif" font-size="14" fill="#77736a" text-anchor="middle" font-weight="bold" transform="rotate(90 173.50 665.00)" textLength="128">NAGAZ310121</text>
<text x="285.00" y="674.00" font-family="'Liberation Sans', sans-serif" font-size="17" fill="#8a867c" text-anchor="middle" font-weight="bold" transform="rotate(90 285.00 674.00)" textLength="70" font-style="italic">ALTERA</text>
<text x="262.50" y="676.00" font-family="'Liberation Sans', sans-serif" font-size="16" fill="#77736a" text-anchor="middle" font-weight="normal" transform="rotate(90 262.50 676.00)" textLength="70">10M08S</text>
<text x="242.00" y="680.00" font-family="'Liberation Sans', sans-serif" font-size="16" fill="#77736a" text-anchor="middle" font-weight="normal" transform="rotate(90 242.00 680.00)" textLength="86">AM153C8G</text>
<text x="222.50" y="676.00" font-family="'Liberation Sans', sans-serif" font-size="16" fill="#77736a" text-anchor="middle" font-weight="normal" transform="rotate(90 222.50 676.00)" textLength="80">E BAGAZ</text>
<text x="203.50" y="668.00" font-family="'Liberation Sans', sans-serif" font-size="16" fill="#77736a" text-anchor="middle" font-weight="normal" transform="rotate(90 203.50 668.00)" textLength="62">1713A-</text>
<rect x="105.00" y="570.00" width="41.00" height="57.00" fill="none" stroke="#bcd0e2" stroke-width="1.3" />
<rect x="109.00" y="574.00" width="31.30" height="48.80" fill="#d9d2ca" />
<rect x="111.00" y="576.00" width="11.00" height="10.00" fill="#b8b4ae" />
<rect x="127.00" y="576.00" width="11.00" height="10.00" fill="#b8b4ae" />
<rect x="111.00" y="611.00" width="11.00" height="10.00" fill="#b8b4ae" />
<rect x="127.00" y="611.00" width="11.00" height="10.00" fill="#b8b4ae" />
<circle cx="123.80" cy="612.00" r="2.60" fill="#19c79a" />
<rect x="105.00" y="665.20" width="41.00" height="57.00" fill="none" stroke="#bcd0e2" stroke-width="1.3" />
<rect x="109.00" y="669.20" width="31.30" height="48.80" fill="#d9d2ca" />
<rect x="111.00" y="671.20" width="11.00" height="10.00" fill="#b8b4ae" />
<rect x="127.00" y="671.20" width="11.00" height="10.00" fill="#b8b4ae" />
<rect x="111.00" y="706.20" width="11.00" height="10.00" fill="#b8b4ae" />
<rect x="127.00" y="706.20" width="11.00" height="10.00" fill="#b8b4ae" />
<circle cx="123.80" cy="707.20" r="2.60" fill="#19c79a" />
<text x="148.50" y="598.00" font-family="'Liberation Sans', sans-serif" font-size="14.5" fill="#dfe8f2" text-anchor="middle" font-weight="normal" transform="rotate(90 148.50 598.00)" >LED1</text>
<text x="148.50" y="693.00" font-family="'Liberation Sans', sans-serif" font-size="14.5" fill="#dfe8f2" text-anchor="middle" font-weight="normal" transform="rotate(90 148.50 693.00)" >LED2</text>
<rect x="107.00" y="556.00" width="18.00" height="8.00" fill="#1c2430" rx="3" />
<rect x="113.50" y="557.00" width="5.00" height="6.00" fill="#c8c8c0" />
<rect x="131.00" y="556.00" width="18.00" height="8.00" fill="#1c2430" rx="3" />
<rect x="137.50" y="557.00" width="5.00" height="6.00" fill="#c8c8c0" />
<rect x="107.00" y="630.00" width="18.00" height="8.00" fill="#1c2430" rx="3" />
<rect x="113.50" y="631.00" width="5.00" height="6.00" fill="#c8c8c0" />
<rect x="107.00" y="651.00" width="18.00" height="8.00" fill="#1c2430" rx="3" />
<rect x="113.50" y="652.00" width="5.00" height="6.00" fill="#c8c8c0" />
<rect x="131.00" y="651.00" width="18.00" height="8.00" fill="#1c2430" rx="3" />
<rect x="137.50" y="652.00" width="5.00" height="6.00" fill="#c8c8c0" />
<rect x="107.00" y="727.00" width="18.00" height="8.00" fill="#1c2430" rx="3" />
<rect x="113.50" y="728.00" width="5.00" height="6.00" fill="#c8c8c0" />
<text x="335.50" y="670.50" font-family="'Liberation Sans', sans-serif" font-size="19" fill="#eef3f8" text-anchor="middle" font-weight="normal" transform="rotate(90 335.50 670.50)" >U1</text>
<text x="105.20" y="771.20" font-family="'Liberation Sans', sans-serif" font-size="19.5" fill="#eef3f8" text-anchor="start" font-weight="bold" textLength="256.5" lengthAdjust="spacingAndGlyphs">LD1LD2LD3LD4LD5LD6LD7LD8</text>
<path d="M121.5,790 V776.3 H352 V790" fill="none" stroke="#c4d6e6" stroke-width="1.4" />
<path d="M121.5,822 V834 H352 V822" fill="none" stroke="#c4d6e6" stroke-width="1.4" />
<line x1="147.00" y1="822.00" x2="147.00" y2="834.00" stroke="#c4d6e6" stroke-width="1.2" />
<rect x="124.00" y="780.00" width="17.50" height="50.00" fill="#b4b6b6" rx="1.5" />
<rect x="124.00" y="793.50" width="17.50" height="28.50" fill="#efe9e5" />
<rect x="132.00" y="794.50" width="6.00" height="2.60" fill="#38c8a4" />
<rect x="130.50" y="805.00" width="4.00" height="4.00" fill="#e0b8a8" />
<line x1="175.85" y1="822.00" x2="175.85" y2="834.00" stroke="#c4d6e6" stroke-width="1.2" />
<rect x="152.85" y="780.00" width="17.50" height="50.00" fill="#b4b6b6" rx="1.5" />
<rect x="152.85" y="793.50" width="17.50" height="28.50" fill="#efe9e5" />
<rect x="160.85" y="794.50" width="6.00" height="2.60" fill="#38c8a4" />
<rect x="159.35" y="805.00" width="4.00" height="4.00" fill="#e0b8a8" />
<line x1="204.70" y1="822.00" x2="204.70" y2="834.00" stroke="#c4d6e6" stroke-width="1.2" />
<rect x="181.70" y="780.00" width="17.50" height="50.00" fill="#b4b6b6" rx="1.5" />
<rect x="181.70" y="793.50" width="17.50" height="28.50" fill="#efe9e5" />
<rect x="189.70" y="794.50" width="6.00" height="2.60" fill="#38c8a4" />
<rect x="188.20" y="805.00" width="4.00" height="4.00" fill="#e0b8a8" />
<line x1="233.55" y1="822.00" x2="233.55" y2="834.00" stroke="#c4d6e6" stroke-width="1.2" />
<rect x="210.55" y="780.00" width="17.50" height="50.00" fill="#b4b6b6" rx="1.5" />
<rect x="210.55" y="793.50" width="17.50" height="28.50" fill="#efe9e5" />
<rect x="218.55" y="794.50" width="6.00" height="2.60" fill="#38c8a4" />
<rect x="217.05" y="805.00" width="4.00" height="4.00" fill="#e0b8a8" />
<line x1="262.40" y1="822.00" x2="262.40" y2="834.00" stroke="#c4d6e6" stroke-width="1.2" />
<rect x="239.40" y="780.00" width="17.50" height="50.00" fill="#b4b6b6" rx="1.5" />
<rect x="239.40" y="793.50" width="17.50" height="28.50" fill="#efe9e5" />
<rect x="247.40" y="794.50" width="6.00" height="2.60" fill="#38c8a4" />
<rect x="245.90" y="805.00" width="4.00" height="4.00" fill="#e0b8a8" />
<line x1="291.25" y1="822.00" x2="291.25" y2="834.00" stroke="#c4d6e6" stroke-width="1.2" />
<rect x="268.25" y="780.00" width="17.50" height="50.00" fill="#b4b6b6" rx="1.5" />
<rect x="268.25" y="793.50" width="17.50" height="28.50" fill="#efe9e5" />
<rect x="276.25" y="794.50" width="6.00" height="2.60" fill="#38c8a4" />
<rect x="274.75" y="805.00" width="4.00" height="4.00" fill="#e0b8a8" />
<line x1="320.10" y1="822.00" x2="320.10" y2="834.00" stroke="#c4d6e6" stroke-width="1.2" />
<rect x="297.10" y="780.00" width="17.50" height="50.00" fill="#b4b6b6" rx="1.5" />
<rect x="297.10" y="793.50" width="17.50" height="28.50" fill="#efe9e5" />
<rect x="305.10" y="794.50" width="6.00" height="2.60" fill="#38c8a4" />
<rect x="303.60" y="805.00" width="4.00" height="4.00" fill="#e0b8a8" />
<rect x="325.95" y="780.00" width="17.50" height="50.00" fill="#b4b6b6" rx="1.5" />
<rect x="325.95" y="793.50" width="17.50" height="28.50" fill="#efe9e5" />
<rect x="333.95" y="794.50" width="6.00" height="2.60" fill="#38c8a4" />
<rect x="332.45" y="805.00" width="4.00" height="4.00" fill="#e0b8a8" />
<rect x="135.30" y="844.00" width="200.50" height="140.30" fill="none" stroke="#c4d6e6" stroke-width="1.5" />
<circle cx="157.50" cy="854.50" r="3.60" fill="#e8eef4" />
<rect x="142.80" y="866.50" width="24.00" height="12.60" fill="#d9d9d5" rx="1" />
<rect x="146.00" y="869.20" width="14.00" height="7.20" fill="#a8917a" />
<rect x="160.00" y="870.20" width="15.00" height="5.20" fill="#c08a4a" />
<rect x="303.00" y="866.20" width="24.00" height="13.20" fill="#d9d9d5" rx="1" />
<rect x="306.00" y="869.00" width="14.00" height="7.60" fill="#a8917a" />
<rect x="286.00" y="870.20" width="18.00" height="5.20" fill="#c08a4a" />
<rect x="142.80" y="893.30" width="24.00" height="12.60" fill="#d9d9d5" rx="1" />
<rect x="146.00" y="896.00" width="14.00" height="7.20" fill="#a8917a" />
<rect x="160.00" y="897.00" width="15.00" height="5.20" fill="#c08a4a" />
<rect x="303.00" y="893.00" width="24.00" height="13.20" fill="#d9d9d5" rx="1" />
<rect x="306.00" y="895.80" width="14.00" height="7.60" fill="#a8917a" />
<rect x="286.00" y="897.00" width="18.00" height="5.20" fill="#c08a4a" />
<rect x="142.80" y="920.10" width="24.00" height="12.60" fill="#d9d9d5" rx="1" />
<rect x="146.00" y="922.80" width="14.00" height="7.20" fill="#a8917a" />
<rect x="160.00" y="923.80" width="15.00" height="5.20" fill="#c08a4a" />
<rect x="303.00" y="919.80" width="24.00" height="13.20" fill="#d9d9d5" rx="1" />
<rect x="306.00" y="922.60" width="14.00" height="7.60" fill="#a8917a" />
<rect x="286.00" y="923.80" width="18.00" height="5.20" fill="#c08a4a" />
<rect x="142.80" y="946.90" width="24.00" height="12.60" fill="#d9d9d5" rx="1" />
<rect x="146.00" y="949.60" width="14.00" height="7.20" fill="#a8917a" />
<rect x="160.00" y="950.60" width="15.00" height="5.20" fill="#c08a4a" />
<rect x="303.00" y="946.60" width="24.00" height="13.20" fill="#d9d9d5" rx="1" />
<rect x="306.00" y="949.40" width="14.00" height="7.60" fill="#a8917a" />
<rect x="286.00" y="950.60" width="18.00" height="5.20" fill="#c08a4a" />
<rect x="279.00" y="845.00" width="6.80" height="138.00" fill="#151a1c" />
<rect x="175.40" y="841.50" width="104.00" height="141.50" fill="#4f4612" />
<rect x="196.00" y="848.00" width="58.00" height="129.00" fill="#463e10" />
<path d="M258,900 L246,910 V965 L256,975 H268 V900 Z" fill="#1e1c0c" opacity="0.9"/>
<rect x="215.50" y="866.20" width="13.80" height="13.40" fill="#e6c306" />
<rect x="229.30" y="866.20" width="12.60" height="13.40" fill="#9b830c" />
<text x="183.20" y="873.30" font-family="'Liberation Sans', sans-serif" font-size="21" fill="#bfa81a" text-anchor="middle" font-weight="normal" transform="rotate(90 183.20 873.30)" >1</text>
<line x1="197.00" y1="886.20" x2="245.00" y2="886.20" stroke="#39320c" stroke-width="1" />
<rect x="215.50" y="893.00" width="13.80" height="13.40" fill="#e6c306" />
<rect x="229.30" y="893.00" width="12.60" height="13.40" fill="#9b830c" />
<text x="183.20" y="900.10" font-family="'Liberation Sans', sans-serif" font-size="21" fill="#bfa81a" text-anchor="middle" font-weight="normal" transform="rotate(90 183.20 900.10)" >2</text>
<line x1="197.00" y1="913.00" x2="245.00" y2="913.00" stroke="#39320c" stroke-width="1" />
<rect x="215.50" y="919.80" width="13.80" height="13.40" fill="#e6c306" />
<rect x="229.30" y="919.80" width="12.60" height="13.40" fill="#9b830c" />
<text x="183.20" y="926.90" font-family="'Liberation Sans', sans-serif" font-size="21" fill="#bfa81a" text-anchor="middle" font-weight="normal" transform="rotate(90 183.20 926.90)" >3</text>
<line x1="197.00" y1="939.80" x2="245.00" y2="939.80" stroke="#39320c" stroke-width="1" />
<rect x="215.50" y="946.60" width="13.80" height="13.40" fill="#e6c306" />
<rect x="229.30" y="946.60" width="12.60" height="13.40" fill="#9b830c" />
<text x="183.20" y="953.70" font-family="'Liberation Sans', sans-serif" font-size="21" fill="#bfa81a" text-anchor="middle" font-weight="normal" transform="rotate(90 183.20 953.70)" >4</text>
<text x="262.50" y="874.00" font-family="'Liberation Sans', sans-serif" font-size="21" fill="#cdb40a" text-anchor="middle" font-weight="normal" transform="rotate(90 262.50 874.00)" >ON</text>
<text x="340.00" y="914.00" font-family="'Liberation Sans', sans-serif" font-size="19.5" fill="#eef3f8" text-anchor="middle" font-weight="bold" transform="rotate(90 340.00 914.00)"  stroke="#eef3f8" stroke-width="0.5">SW1</text>
<text x="122.50" y="971.00" font-family="'Liberation Sans', sans-serif" font-size="19.5" fill="#eef3f8" text-anchor="middle" font-weight="bold" transform="rotate(90 122.50 971.00)"  stroke="#eef3f8" stroke-width="0.5">K3</text>
<text x="104.80" y="974.00" font-family="'Liberation Sans', sans-serif" font-size="19.5" fill="#eef3f8" text-anchor="middle" font-weight="bold" transform="rotate(90 104.80 974.00)"  stroke="#eef3f8" stroke-width="0.5">K4</text>
<text x="361.00" y="971.00" font-family="'Liberation Sans', sans-serif" font-size="19.5" fill="#eef3f8" text-anchor="middle" font-weight="bold" transform="rotate(90 361.00 971.00)"  stroke="#eef3f8" stroke-width="0.5">K1</text>
<text x="343.00" y="973.00" font-family="'Liberation Sans', sans-serif" font-size="19.5" fill="#eef3f8" text-anchor="middle" font-weight="bold" transform="rotate(90 343.00 973.00)"  stroke="#eef3f8" stroke-width="0.5">K2</text>
<rect x="102.90" y="990.30" width="263.00" height="120.70" fill="none" stroke="#c4d6e6" stroke-width="1.6" />
<line x1="166.70" y1="990.30" x2="166.70" y2="1111.00" stroke="#c4d6e6" stroke-width="1.6" />
<line x1="232.20" y1="990.30" x2="232.20" y2="1111.00" stroke="#c4d6e6" stroke-width="1.6" />
<line x1="298.60" y1="990.30" x2="298.60" y2="1111.00" stroke="#c4d6e6" stroke-width="1.6" />
<rect x="113.15" y="995.50" width="34.00" height="13.00" fill="#d6cfc6" rx="1" />
<rect x="120.15" y="998.00" width="20.00" height="8.00" fill="#a57a58" />
<rect x="113.15" y="1090.00" width="34.00" height="15.00" fill="#d6cfc6" rx="1" />
<rect x="120.15" y="1094.00" width="20.00" height="8.00" fill="#9a7254" />
<polygon points="105.30,1009.30 155.00,1009.30 155.00,1021.00 160.00,1021.00 160.00,1082.00 155.00,1082.00 155.00,1090.30 105.30,1090.30 105.30,1082.00 100.30,1082.00 100.30,1021.00 105.30,1021.00" fill="url(#btng)" stroke="#8f8a82" stroke-width="0.8" />
<rect x="115.15" y="1007.50" width="6.50" height="5.50" fill="#34383c" rx="2" />
<rect x="115.15" y="1086.50" width="6.50" height="5.50" fill="#34383c" rx="2" />
<rect x="139.15" y="1007.50" width="6.50" height="5.50" fill="#34383c" rx="2" />
<rect x="139.15" y="1086.50" width="6.50" height="5.50" fill="#34383c" rx="2" />
<circle cx="130.20" cy="1049.80" r="19.80" fill="url(#btnc)" />
<circle cx="130.20" cy="1049.80" r="19.80" fill="none" stroke="#2e3036" stroke-width="1.2" />
<rect x="181.05" y="995.50" width="34.00" height="13.00" fill="#d6cfc6" rx="1" />
<rect x="188.05" y="998.00" width="20.00" height="8.00" fill="#a57a58" />
<rect x="181.05" y="1090.00" width="34.00" height="15.00" fill="#d6cfc6" rx="1" />
<rect x="188.05" y="1094.00" width="20.00" height="8.00" fill="#9a7254" />
<polygon points="172.60,1009.30 223.50,1009.30 223.50,1021.00 228.50,1021.00 228.50,1082.00 223.50,1082.00 223.50,1090.30 172.60,1090.30 172.60,1082.00 167.60,1082.00 167.60,1021.00 172.60,1021.00" fill="url(#btng)" stroke="#8f8a82" stroke-width="0.8" />
<rect x="183.05" y="1007.50" width="6.50" height="5.50" fill="#34383c" rx="2" />
<rect x="183.05" y="1086.50" width="6.50" height="5.50" fill="#34383c" rx="2" />
<rect x="207.05" y="1007.50" width="6.50" height="5.50" fill="#34383c" rx="2" />
<rect x="207.05" y="1086.50" width="6.50" height="5.50" fill="#34383c" rx="2" />
<circle cx="195.50" cy="1049.80" r="19.80" fill="url(#btnc)" />
<circle cx="195.50" cy="1049.80" r="19.80" fill="none" stroke="#2e3036" stroke-width="1.2" />
<rect x="246.45" y="995.50" width="34.00" height="13.00" fill="#d6cfc6" rx="1" />
<rect x="253.45" y="998.00" width="20.00" height="8.00" fill="#a57a58" />
<rect x="246.45" y="1090.00" width="34.00" height="15.00" fill="#d6cfc6" rx="1" />
<rect x="253.45" y="1094.00" width="20.00" height="8.00" fill="#9a7254" />
<polygon points="238.10,1009.30 288.80,1009.30 288.80,1021.00 293.80,1021.00 293.80,1082.00 288.80,1082.00 288.80,1090.30 238.10,1090.30 238.10,1082.00 233.10,1082.00 233.10,1021.00 238.10,1021.00" fill="url(#btng)" stroke="#8f8a82" stroke-width="0.8" />
<rect x="248.45" y="1007.50" width="6.50" height="5.50" fill="#34383c" rx="2" />
<rect x="248.45" y="1086.50" width="6.50" height="5.50" fill="#34383c" rx="2" />
<rect x="272.45" y="1007.50" width="6.50" height="5.50" fill="#34383c" rx="2" />
<rect x="272.45" y="1086.50" width="6.50" height="5.50" fill="#34383c" rx="2" />
<circle cx="260.70" cy="1049.80" r="19.80" fill="url(#btnc)" />
<circle cx="260.70" cy="1049.80" r="19.80" fill="none" stroke="#2e3036" stroke-width="1.2" />
<rect x="309.30" y="995.50" width="34.00" height="13.00" fill="#d6cfc6" rx="1" />
<rect x="316.30" y="998.00" width="20.00" height="8.00" fill="#a57a58" />
<rect x="309.30" y="1090.00" width="34.00" height="15.00" fill="#d6cfc6" rx="1" />
<rect x="316.30" y="1094.00" width="20.00" height="8.00" fill="#9a7254" />
<polygon points="301.00,1009.30 351.60,1009.30 351.60,1021.00 356.60,1021.00 356.60,1082.00 351.60,1082.00 351.60,1090.30 301.00,1090.30 301.00,1082.00 296.00,1082.00 296.00,1021.00 301.00,1021.00" fill="url(#btng)" stroke="#8f8a82" stroke-width="0.8" />
<rect x="311.30" y="1007.50" width="6.50" height="5.50" fill="#34383c" rx="2" />
<rect x="311.30" y="1086.50" width="6.50" height="5.50" fill="#34383c" rx="2" />
<rect x="335.30" y="1007.50" width="6.50" height="5.50" fill="#34383c" rx="2" />
<rect x="335.30" y="1086.50" width="6.50" height="5.50" fill="#34383c" rx="2" />
<circle cx="324.80" cy="1049.80" r="19.80" fill="url(#btnc)" />
<circle cx="324.80" cy="1049.80" r="19.80" fill="none" stroke="#2e3036" stroke-width="1.2" />
<rect x="356.60" y="1012.00" width="5.50" height="76.00" fill="#2c3036" />
</g>
<line x1="2.00" y1="1150.00" x2="2.00" y2="1112.00" stroke="#00ff00" stroke-width="3" />
<polygon points="-3.00,1114.00 2.00,1102.00 7.00,1114.00" fill="#00ff00" />
<text x="-3.00" y="1093.00" font-family="'Liberation Sans', sans-serif" font-size="17" fill="#00ff00" text-anchor="start" font-weight="normal" >Y</text>
<line x1="4.00" y1="1154.50" x2="44.00" y2="1154.50" stroke="#ff0000" stroke-width="4" />
<polygon points="42.00,1149.00 53.00,1154.50 42.00,1160.00" fill="#ff0000" />
<text x="60.00" y="1158.00" font-family="'Liberation Sans', sans-serif" font-size="17" fill="#ff0000" text-anchor="start" font-weight="normal" >X</text>
<circle cx="2.00" cy="1154.00" r="5.00" fill="#0000cc" />
</svg>
</body></html>
